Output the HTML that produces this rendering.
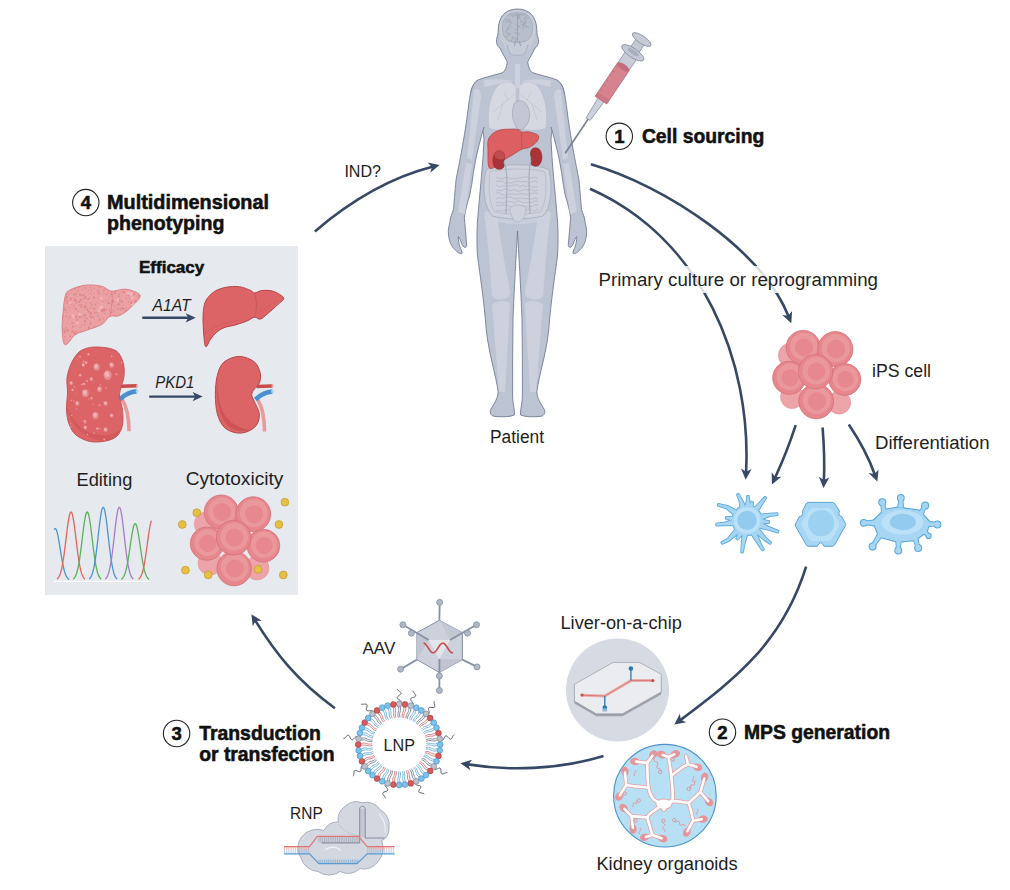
<!DOCTYPE html>
<html><head><meta charset="utf-8"><title>Figure</title>
<style>
html,body{margin:0;padding:0;background:#fff;width:1010px;height:890px;overflow:hidden}
svg{display:block}
text{font-family:"Liberation Sans",sans-serif}
</style></head><body>
<svg width="1010" height="890" viewBox="0 0 1010 890">
<rect x="45" y="246" width="253" height="349" fill="#e6e9ee"/>
<path d="M517.5,9 C506,9 498.5,16 498.2,30 C498.2,34 497.5,36 496.8,38 C496,42 497,47 500,48 C502,53 506,59 507.3,62 C506.5,67 505.5,70 503,72.5 C496,75 485,77 478,80 C472,84 470,92 471,100 C474,110 484,125 484,140 C483,165 480,190 478,215 C477,225 476.5,240 477.5,256 C480,275 484,300 486.3,330 C489,355 496,375 498.2,392 C498,398 494,404 491,409 C489,413 491,416.5 496,416.5 C503,417 510,417 514.4,415 C515,410 512.6,404 512.6,395 C512.6,370 512.6,345 513,320 C514,290 516.5,250 517.5,231 C518.5,250 521.0,290 522.0,320 C522.4,345 522.4,370 522.4,395 C522.4,404 520.0,410 520.6,415 C525.0,417 532.0,417 539.0,416.5 C544.0,416.5 546.0,413 544.0,409 C541.0,404 537.0,398 536.8,392 C539.0,375 546.0,355 548.7,330 C551.0,300 555.0,275 557.5,256 C558.5,240 558.0,225 557.0,215 C555.0,190 552.0,165 551.0,140 C551.0,125 561.0,110 564.0,100 C565.0,92 563.0,84 557.0,80 C550.0,77 539.0,75 532.0,72.5 C529.5,70 528.5,67 527.7,62 C529.0,59 533.0,53 535.0,48 C538.0,47 539.0,42 538.2,38 C537.5,36 536.8,34 536.8,30 C536.5,16 529.0,9 517.5,9 Z" fill="#bcc3d2" stroke="#737c92" stroke-width="0.9"/>
<g fill="#ccd1dd">
<path d="M484.0,213 C488.0,209 495.0,210 497.0,214 C500.0,240 506.0,270 510.0,292 C511.0,300 495.0,302 492.0,296 C490.0,270 488.0,240 484.0,213 Z"/>
<path d="M492.0,304 C498.0,300 508.0,300 510.0,304 L505.0,392 L499.0,392 Z"/>
<path d="M479.0,82 C490.0,78 503.0,79 512.0,81 L512.0,84 C500.0,83 488.0,85 481.0,89 Z"/>
<path d="M551.0,213 C547.0,209 540.0,210 538.0,214 C535.0,240 529.0,270 525.0,292 C524.0,300 540.0,302 543.0,296 C545.0,270 547.0,240 551.0,213 Z"/>
<path d="M543.0,304 C537.0,300 527.0,300 525.0,304 L530.0,392 L536.0,392 Z"/>
<path d="M556.0,82 C545.0,78 532.0,79 523.0,81 L523.0,84 C535.0,83 547.0,85 554.0,89 Z"/>
</g>
<path d="M492,200 C504,196 531,196 543,200 L546,218 C536,226 499,226 489,218 Z" fill="#ccd1dd" opacity="0.75"/>
<path d="M489,128 C487,110 490,92 500,84 C508,80 514,82 516,88 L516,128 C508,131 496,131 489,128 Z" fill="#d5d8e1" stroke="#b8bdca" stroke-width="0.5"/>
<path d="M546,128 C548,110 545,92 535,84 C527,80 521,82 519,88 L519,128 C527,131 539,131 546,128 Z" fill="#d5d8e1" stroke="#b8bdca" stroke-width="0.5"/>
<path d="M514.0,95 C508.0,100 500.0,106 493.0,112 M508.0,100 L504.0,92 M503.0,104 L498.0,120" fill="none" stroke="#b4bac7" stroke-width="0.5"/>
<path d="M521.0,95 C527.0,100 535.0,106 542.0,112 M527.0,100 L531.0,92 M532.0,104 L537.0,120" fill="none" stroke="#b4bac7" stroke-width="0.5"/>
<rect x="515" y="64" width="5" height="24" fill="#ccd1dd"/>
<path d="M514,104 C518,98 526,100 529,110 C531,120 527,128 520,130 C514,126 510,116 514,104 Z" fill="#c2c7d3" stroke="#98a0b1" stroke-width="0.6"/>
<path d="M486,170 C496,163 539,163 549,170 C553,188 551,208 543,216 C527,220 508,220 492,216 C484,206 482,188 486,170 Z" fill="#cdd2dc" stroke="#a5acbb" stroke-width="0.8"/>
<path d="M490,172 C500,168 535,168 545,172 C547,185 546,205 540,212 C527,215 508,215 495,212 C489,205 488,185 490,172 Z" fill="none" stroke="#b0b6c4" stroke-width="0.7"/>
<polyline points="496.0,177.1 499.0,178.5 502.0,178.4 505.0,177.9 508.0,177.3 511.0,178.8 514.0,178.8 517.0,178.0 520.0,178.0 523.0,177.3 526.0,176.7 529.0,177.7 532.0,178.2 535.0,176.9 538.0,178.8" fill="none" stroke="#a9b0be" stroke-width="0.6"/>
<polyline points="496.0,181.3 499.0,181.3 502.0,180.8 505.0,183.3 508.0,182.6 511.0,183.0 514.0,182.3 517.0,180.8 520.0,181.6 523.0,182.0 526.0,181.0 529.0,183.2 532.0,181.7 535.0,181.1 538.0,182.8" fill="none" stroke="#a9b0be" stroke-width="0.6"/>
<polyline points="496.0,185.0 499.0,187.1 502.0,185.9 505.0,186.1 508.0,185.6 511.0,186.0 514.0,185.2 517.0,184.8 520.0,187.0 523.0,185.3 526.0,186.7 529.0,185.2 532.0,187.2 535.0,187.0 538.0,186.7" fill="none" stroke="#a9b0be" stroke-width="0.6"/>
<polyline points="496.0,190.7 499.0,190.2 502.0,190.6 505.0,189.0 508.0,189.9 511.0,190.9 514.0,189.2 517.0,191.1 520.0,191.0 523.0,189.8 526.0,189.6 529.0,189.9 532.0,189.7 535.0,191.3 538.0,189.7" fill="none" stroke="#a9b0be" stroke-width="0.6"/>
<polyline points="496.0,192.8 499.0,192.9 502.0,194.6 505.0,195.3 508.0,194.0 511.0,194.0 514.0,194.1 517.0,194.6 520.0,193.3 523.0,194.3 526.0,194.1 529.0,194.3 532.0,193.2 535.0,193.1 538.0,193.6" fill="none" stroke="#a9b0be" stroke-width="0.6"/>
<polyline points="496.0,199.1 499.0,197.6 502.0,198.3 505.0,197.5 508.0,197.0 511.0,196.9 514.0,198.8 517.0,198.7 520.0,197.7 523.0,198.5 526.0,198.5 529.0,199.0 532.0,199.2 535.0,197.8 538.0,199.3" fill="none" stroke="#a9b0be" stroke-width="0.6"/>
<polyline points="496.0,203.2 499.0,202.2 502.0,203.0 505.0,202.0 508.0,201.7 511.0,201.3 514.0,203.0 517.0,201.1 520.0,200.9 523.0,202.8 526.0,202.7 529.0,202.0 532.0,202.9 535.0,200.8 538.0,201.4" fill="none" stroke="#a9b0be" stroke-width="0.6"/>
<polyline points="496.0,205.5 499.0,205.8 502.0,205.1 505.0,204.9 508.0,205.6 511.0,207.0 514.0,207.3 517.0,206.6 520.0,205.9 523.0,205.4 526.0,207.2 529.0,206.1 532.0,206.6 535.0,204.8 538.0,205.3" fill="none" stroke="#a9b0be" stroke-width="0.6"/>
<polyline points="496.0,210.9 499.0,210.8 502.0,211.0 505.0,210.3 508.0,209.8 511.0,210.2 514.0,210.9 517.0,209.5 520.0,210.1 523.0,209.4 526.0,210.7 529.0,208.7 532.0,210.5 535.0,211.2 538.0,208.8" fill="none" stroke="#a9b0be" stroke-width="0.6"/>
<path d="M510,208 C514,204 522,204 526,208 C526,216 522,222 518,222 C514,222 510,216 510,208 Z" fill="#cdd2dd" stroke="#a2a9b8" stroke-width="0.5"/>
<path d="M478,80 C471,84 470,95 468,110 C465,135 459,165 456,180 C455,192 454,202 453.5,209.6 C452,214 450,218 449.9,222.2 C448.5,228 448,231 448.5,234 C449,241 451,245 453.5,248.3 C456,251 459,254 461.6,253.7 C463,252 460,248 459.3,244.7 C458.5,241 458,238 458.4,236.6 C459.5,238 460.5,240 461.1,242 C462,245 463.5,247.5 465.2,247.4 C467,247 466.8,244 466.5,242.9 C466,236 465,225 464.3,217.7 C466,208 468,200 469.6,196.2 C471,188 472,184 472.3,180 C475,160 480,140 484,127 C486,115 486,95 484,82 Z" fill="#bcc3d2"/>
<path d="M 557.0,80 C 564.0,84 565.0,95 567.0,110 C 570.0,135 576.0,165 579.0,180 C 580.0,192 581.0,202 581.5,209.6 C 583.0,214 585.0,218 585.1,222.2 C 586.5,228 587.0,231 586.5,234 C 586.0,241 584.0,245 581.5,248.3 C 579.0,251 576.0,254 573.4,253.7 C 572.0,252 575.0,248 575.7,244.7 C 576.5,241 577.0,238 576.6,236.6 C 575.5,238 574.5,240 573.9,242 C 573.0,245 571.5,247.5 569.8,247.4 C 568.0,247 568.2,244 568.5,242.9 C 569.0,236 570.0,225 570.7,217.7 C 569.0,208 567.0,200 565.4,196.2 C 564.0,188 563.0,184 562.7,180 C 560.0,160 555.0,140 551.0,127 C 549.0,115 549.0,95 551.0,82 Z" fill="#bcc3d2"/>
<path d="M478,80 C471,84 470,95 468,110 C465,135 459,165 456,180 C455,192 454,202 453.5,209.6 C452,214 450,218 449.9,222.2 C448.5,228 448,231 448.5,234 C449,241 451,245 453.5,248.3 C456,251 459,254 461.6,253.7 C463,252 460,248 459.3,244.7 C458.5,241 458,238 458.4,236.6 C459.5,238 460.5,240 461.1,242 C462,245 463.5,247.5 465.2,247.4 C467,247 466.8,244 466.5,242.9 C466,236 465,225 464.3,217.7 C466,208 468,200 469.6,196.2 C471,188 472,184 472.3,180 C475,160 480,140 484,127" fill="none" stroke="#737c92" stroke-width="0.9"/>
<path d="M 557.0,80 C 564.0,84 565.0,95 567.0,110 C 570.0,135 576.0,165 579.0,180 C 580.0,192 581.0,202 581.5,209.6 C 583.0,214 585.0,218 585.1,222.2 C 586.5,228 587.0,231 586.5,234 C 586.0,241 584.0,245 581.5,248.3 C 579.0,251 576.0,254 573.4,253.7 C 572.0,252 575.0,248 575.7,244.7 C 576.5,241 577.0,238 576.6,236.6 C 575.5,238 574.5,240 573.9,242 C 573.0,245 571.5,247.5 569.8,247.4 C 568.0,247 568.2,244 568.5,242.9 C 569.0,236 570.0,225 570.7,217.7 C 569.0,208 567.0,200 565.4,196.2 C 564.0,188 563.0,184 562.7,180 C 560.0,160 555.0,140 551.0,127" fill="none" stroke="#737c92" stroke-width="0.9"/>
<g fill="#ccd1dd">
<path d="M474.0,90 C478.0,88 481.0,90 481.0,97 L472.0,160 L467.0,158 Z"/>
<path d="M466.0,163 L472.0,164 L465.0,214 L458.0,212 Z"/>
<path d="M561.0,90 C557.0,88 554.0,90 554.0,97 L563.0,160 L568.0,158 Z"/>
<path d="M569.0,163 L563.0,164 L570.0,214 L577.0,212 Z"/>
</g>
<path d="M517.5,10.5 C529,10.5 535.5,17 535.5,28 C535.5,38 532,46 526,52 C522,55 513,55 509,52 C503,46 499.5,38 499.5,28 C499.5,17 506,10.5 517.5,10.5 Z" fill="#c6cbd7"/>
<clipPath id="cbrain"><path d="M517.5,12.5 C527,12.5 532.5,18 532.5,27 C532.5,36 530,42.5 517.5,42.5 C505,42.5 502.5,36 502.5,27 C502.5,18 508,12.5 517.5,12.5 Z"/></clipPath>
<path d="M517.5,12.5 C527,12.5 532.5,18 532.5,27 C532.5,36 530,42.5 517.5,42.5 C505,42.5 502.5,36 502.5,27 C502.5,18 508,12.5 517.5,12.5 Z" fill="#b8beca" stroke="#9ba2b2" stroke-width="0.6"/>
<g clip-path="url(#cbrain)" fill="none" stroke="#9aa1b1" stroke-width="0.55">
<path d="M516.4,23.8 q-0.2,2.1 1.9,2.3 t1.9,2.3"/>
<path d="M528.1,13.2 q-1.5,-1.5 -3.0,-0.0 t-3.0,-0.0"/>
<path d="M529.1,15.3 q-0.9,-1.9 -2.8,-1.0 t-2.8,-1.0"/>
<path d="M520.9,14.2 q-2.1,-0.1 -2.2,2.1 t-2.2,2.1"/>
<path d="M523.4,26.1 q1.2,-1.7 -0.5,-3.0 t-0.5,-3.0"/>
<path d="M507.6,19.9 q0.2,2.1 2.3,1.9 t2.3,1.9"/>
<path d="M517.7,39.8 q-0.5,-2.1 -2.5,-1.6 t-2.5,-1.6"/>
<path d="M525.5,24.1 q1.5,-1.5 -0.1,-3.0 t-0.1,-3.0"/>
<path d="M505.9,21.4 q0.6,-2.0 -1.4,-2.7 t-1.4,-2.7"/>
<path d="M524.0,25.2 q0.5,2.1 2.6,1.6 t2.6,1.6"/>
<path d="M510.7,19.1 q-1.8,1.2 -0.6,2.9 t-0.6,2.9"/>
<path d="M526.5,18.8 q2.1,0.1 2.3,-2.0 t2.3,-2.0"/>
<path d="M528.5,14.6 q-2.1,-0.0 -2.2,2.1 t-2.2,2.1"/>
<path d="M517.3,13.7 q-2.0,-0.6 -2.7,1.4 t-2.7,1.4"/>
<path d="M529.3,16.2 q-0.4,-2.1 -2.5,-1.7 t-2.5,-1.7"/>
<path d="M506.5,29.8 q2.1,0.3 2.4,-1.8 t2.4,-1.8"/>
<path d="M508.9,13.2 q0.5,2.0 2.6,1.5 t2.6,1.5"/>
<path d="M518.7,13.5 q0.5,2.1 2.6,1.5 t2.6,1.5"/>
<path d="M517.4,39.7 q-2.0,-0.6 -2.6,1.4 t-2.6,1.4"/>
<path d="M514.5,31.5 q0.4,2.1 2.5,1.7 t2.5,1.7"/>
<path d="M519.8,18.0 q-0.2,-2.1 -2.3,-1.9 t-2.3,-1.9"/>
<path d="M530.8,14.6 q-0.9,-1.9 -2.8,-1.0 t-2.8,-1.0"/>
<path d="M520.6,17.3 q-1.7,1.3 -0.3,3.0 t-0.3,3.0"/>
<path d="M531.9,41.9 q0.0,2.1 2.2,2.1 t2.2,2.1"/>
<path d="M523.5,40.6 q-1.4,1.6 0.3,3.0 t0.3,3.0"/>
<path d="M520.7,14.2 q-2.1,0.1 -2.0,2.2 t-2.0,2.2"/>
<path d="M522.5,30.1 q1.7,-1.3 0.5,-3.0 t0.5,-3.0"/>
<path d="M505.5,23.1 q2.1,-0.2 2.0,-2.3 t2.0,-2.3"/>
<path d="M519.9,26.1 q-2.1,-0.4 -2.4,1.7 t-2.4,1.7"/>
<path d="M531.6,29.7 q1.3,1.7 3.0,0.3 t3.0,0.3"/>
<path d="M526.2,22.5 q-2.0,-0.8 -2.7,1.2 t-2.7,1.2"/>
<path d="M509.2,25.9 q-2.0,0.7 -1.4,2.7 t-1.4,2.7"/>
<path d="M505.6,31.3 q0.3,2.1 2.4,1.8 t2.4,1.8"/>
<path d="M525.7,13.7 q1.8,-1.2 0.6,-2.9 t0.6,-2.9"/>
<path d="M526.4,27.4 q1.1,-1.8 -0.8,-2.9 t-0.8,-2.9"/>
<path d="M510.2,34.4 q-2.0,-0.7 -2.7,1.4 t-2.7,1.4"/>
<path d="M509.7,41.0 q-2.1,-0.3 -2.4,1.8 t-2.4,1.8"/>
<path d="M513.8,37.9 q-2.1,0.1 -2.0,2.2 t-2.0,2.2"/>
</g>
<path d="M517.5,13 L517.5,42" stroke="#959cad" stroke-width="0.7"/>
<path d="M515.5,41 L514.5,46 M519.5,41 L520.5,46" stroke="#8f97a8" stroke-width="0.8"/>
<path d="M507,45 C508,49 509,52 511,54 M528,45 C527,49 526,52 524,54" fill="none" stroke="#a2a9b8" stroke-width="0.9"/>
<path d="M511,54.5 C515,56 520,56 524,54.5" fill="none" stroke="#adb3c1" stroke-width="0.8"/>
<path d="M488.9,138.3 C490.7,134.9 494.2,131.8 498.8,130.3 C503.4,128.8 512.9,129.1 516.8,129.4 C520.7,129.7 520.1,131.6 522.2,132.0 C524.3,132.4 526.7,131.4 529.4,132.0 C532.1,132.6 537.1,133.9 538.3,135.6 C539.5,137.3 538.0,140.1 536.5,142.0 C535.0,143.9 531.8,146.1 529.4,147.3 C527.0,148.5 524.9,147.9 522.2,149.1 C519.5,150.3 516.2,152.7 513.2,154.5 C510.2,156.3 507.2,157.8 504.2,159.9 C501.2,162.0 497.8,165.9 495.2,167.1 C492.6,168.3 490.1,169.8 488.9,167.1 C487.7,164.4 488.0,155.7 488.0,150.9 C488.0,146.1 487.1,141.7 488.9,138.3 Z" fill="#dc6062" stroke="#b44448" stroke-width="0.8"/>
<path d="M521,132 C522,138 522,144 521.5,149" fill="none" stroke="#b44448" stroke-width="0.6"/>
<path d="M496,152 C501,149 505,152 504.5,158 C504,160 503,161.5 504.2,164 C505,168.5 500,170.5 496,168.5 C492,165 492,156 496,152 Z" fill="#a93337" stroke="#8a2629" stroke-width="0.6"/>
<path d="M496,152 C501,149 505,152 504.5,158 C503,160 500,160 496,158 C494,156 494,154 496,152 Z" fill="#d6686a" opacity="0.5"/>
<path d="M539,149 C534,146 530,149 530.5,155 C531,157 532,158.5 530.6,161 C529.8,165 534.5,167.5 538.5,165.5 C543,162 543,153 539,149 Z" fill="#a93337" stroke="#8a2629" stroke-width="0.6"/>
<path d="M504,162 C508,170 507,190 506,214 M531,160 C528,170 529,190 530,214" fill="none" stroke="#a7aebd" stroke-width="1.2"/>
<text x="490" y="443" font-size="18" font-weight="normal" font-style="normal" fill="#1e1e1e" text-anchor="start" textLength="54" lengthAdjust="spacingAndGlyphs">Patient</text>
<g transform="translate(565.2,153.2) rotate(-56.06)">
<rect x="0" y="-0.8" width="44" height="1.6" fill="#7a8296"/>
<path d="M41,-2.4 L65,-3.6 L65,3.6 L41,2.4 Z" fill="#ccd1db" stroke="#848ca0" stroke-width="0.7"/>
<rect x="104" y="-6.8" width="16" height="13.6" fill="#c7ccd7" stroke="#848ca0" stroke-width="0.7"/>
<path d="M64,-7 L104,-7 L104,7 L64,7 Z" fill="#d6838f" stroke="#b56a78" stroke-width="0.7"/>
<ellipse cx="104" cy="0" rx="3" ry="7" fill="#c36e7d"/>
<rect x="64" y="-7" width="5" height="14" fill="#c9717f" opacity="0.7"/>
<line x1="73.0" y1="-7" x2="73.0" y2="-4" stroke="#b8697a" stroke-width="0.6"/>
<line x1="78.5" y1="-7" x2="78.5" y2="-4" stroke="#b8697a" stroke-width="0.6"/>
<line x1="84.0" y1="-7" x2="84.0" y2="-4" stroke="#b8697a" stroke-width="0.6"/>
<line x1="89.5" y1="-7" x2="89.5" y2="-4" stroke="#b8697a" stroke-width="0.6"/>
<line x1="95.0" y1="-7" x2="95.0" y2="-4" stroke="#b8697a" stroke-width="0.6"/>
<line x1="100.5" y1="-7" x2="100.5" y2="-4" stroke="#b8697a" stroke-width="0.6"/>
<rect x="118" y="-5" width="19" height="10" fill="#c3c8d3" stroke="#848ca0" stroke-width="0.7"/>
<ellipse cx="121" cy="0" rx="4.6" ry="13" fill="#c5cad5" stroke="#848ca0" stroke-width="0.8"/>
<ellipse cx="121.8" cy="0" rx="2.4" ry="6.5" fill="#a9afbd"/>
<ellipse cx="137" cy="0" rx="3.8" ry="11" fill="#c5cad5" stroke="#848ca0" stroke-width="0.8"/>
</g>
<path d="M314.9,231.4 C351.4,200.1 392.8,176.9 432.34,166.76" fill="none" stroke="#374865" stroke-width="2.6"/>
<path d="M439.6,164.9 L430.3,172.8 L431.9,166.9 L427.6,162.5Z" fill="#374865"/>
<path d="M590.9,164.2 C665.9,185.7 762.3,250.6 788.52,316.24" fill="none" stroke="#374865" stroke-width="2.6"/>
<path d="M791.3,323.2 L782.3,315.0 L788.3,315.8 L792.1,311.0Z" fill="#374865"/>
<path d="M590,188.7 C702.9,238.9 751.7,362.0 746.08,472.21" fill="none" stroke="#374865" stroke-width="2.6"/>
<path d="M745.7,479.7 L741.0,468.4 L746.1,471.7 L751.6,469.0Z" fill="#374865"/>
<path d="M795.7,425.1 Q787,452 775.06,477.7" fill="none" stroke="#374865" stroke-width="2.6"/>
<path d="M771.9,484.5 L771.7,472.3 L775.3,477.2 L781.3,476.8Z" fill="#374865"/>
<path d="M822.6,427.5 Q825,458 823.87,480.61" fill="none" stroke="#374865" stroke-width="2.6"/>
<path d="M823.5,488.1 L818.8,476.8 L823.9,480.1 L829.3,477.4Z" fill="#374865"/>
<path d="M848.8,424.5 Q866,450 874.77,474.44" fill="none" stroke="#374865" stroke-width="2.6"/>
<path d="M877.3,481.5 L868.6,472.9 L874.6,474.0 L878.6,469.4Z" fill="#374865"/>
<path d="M806.1,566.7 C782.4,642.8 735.3,678.9 680.3,720.1" fill="none" stroke="#374865" stroke-width="2.6"/>
<path d="M674.3,724.6 L679.9,713.8 L680.7,719.8 L686.3,722.2Z" fill="#374865"/>
<path d="M603.5,756 C557.3,770.0 507.8,770.9 467.8,764.4" fill="none" stroke="#374865" stroke-width="2.6"/>
<path d="M460.4,763.2 L472.1,759.7 L468.3,764.5 L470.4,770.2Z" fill="#374865"/>
<path d="M334.9,708.2 C296.9,680.4 275.7,653.5 255.34,620.58" fill="none" stroke="#374865" stroke-width="2.6"/>
<path d="M251.4,614.2 L261.7,620.8 L255.6,621.0 L252.7,626.3Z" fill="#374865"/>
<rect x="595" y="266" width="288" height="27" fill="#fff" opacity="0.82"/>
<text x="598.5" y="286.3" font-size="18" font-weight="normal" font-style="normal" fill="#1e1e1e" text-anchor="start" textLength="279.5" lengthAdjust="spacingAndGlyphs">Primary culture or reprogramming</text>
<text x="344.4" y="177" font-size="17" font-weight="normal" font-style="normal" fill="#1e1e1e" text-anchor="start" textLength="36.6" lengthAdjust="spacingAndGlyphs">IND?</text>
<circle cx="85.8" cy="202.6" r="13.2" fill="#fff" stroke="#222" stroke-width="1.1"/>
<text x="85.8" y="209.2" font-size="18.5" font-weight="bold" font-style="normal" fill="#111" text-anchor="middle" stroke="#111" stroke-width="0.55">4</text>
<text x="107" y="209" font-size="19.5" font-weight="bold" font-style="normal" fill="#111" text-anchor="start" textLength="162" lengthAdjust="spacingAndGlyphs" stroke="#111" stroke-width="0.55">Multidimensional</text>
<text x="107" y="230.4" font-size="19.5" font-weight="bold" font-style="normal" fill="#111" text-anchor="start" textLength="117.4" lengthAdjust="spacingAndGlyphs" stroke="#111" stroke-width="0.55">phenotyping</text>
<circle cx="619.3" cy="136.3" r="13.2" fill="#fff" stroke="#222" stroke-width="1.1"/>
<text x="619.3" y="142.9" font-size="18.5" font-weight="bold" font-style="normal" fill="#111" text-anchor="middle" stroke="#111" stroke-width="0.55">1</text>
<text x="641.9" y="143.3" font-size="19.5" font-weight="bold" font-style="normal" fill="#111" text-anchor="start" textLength="122.4" lengthAdjust="spacingAndGlyphs" stroke="#111" stroke-width="0.55">Cell sourcing</text>
<circle cx="722.5" cy="732.2" r="13.2" fill="#fff" stroke="#222" stroke-width="1.1"/>
<text x="722.5" y="738.8000000000001" font-size="18.5" font-weight="bold" font-style="normal" fill="#111" text-anchor="middle" stroke="#111" stroke-width="0.55">2</text>
<text x="744" y="738.7" font-size="19.5" font-weight="bold" font-style="normal" fill="#111" text-anchor="start" textLength="146" lengthAdjust="spacingAndGlyphs" stroke="#111" stroke-width="0.55">MPS generation</text>
<circle cx="176.6" cy="733.5" r="13.2" fill="#fff" stroke="#222" stroke-width="1.1"/>
<text x="176.6" y="740.1" font-size="18.5" font-weight="bold" font-style="normal" fill="#111" text-anchor="middle" stroke="#111" stroke-width="0.55">3</text>
<text x="199.2" y="739.7" font-size="19.5" font-weight="bold" font-style="normal" fill="#111" text-anchor="start" textLength="121.7" lengthAdjust="spacingAndGlyphs" stroke="#111" stroke-width="0.55">Transduction</text>
<text x="199.2" y="761.2" font-size="19.5" font-weight="bold" font-style="normal" fill="#111" text-anchor="start" textLength="135.4" lengthAdjust="spacingAndGlyphs" stroke="#111" stroke-width="0.55">or transfection</text>
<text x="872" y="377" font-size="18" font-weight="normal" font-style="normal" fill="#1e1e1e" text-anchor="start" textLength="59" lengthAdjust="spacingAndGlyphs">iPS cell</text>
<text x="875" y="449.4" font-size="18" font-weight="normal" font-style="normal" fill="#1e1e1e" text-anchor="start" textLength="114.5" lengthAdjust="spacingAndGlyphs">Differentiation</text>
<text x="560.5" y="629" font-size="18" font-weight="normal" font-style="normal" fill="#1e1e1e" text-anchor="start" textLength="121.3" lengthAdjust="spacingAndGlyphs">Liver-on-a-chip</text>
<text x="596.4" y="869.9" font-size="18" font-weight="normal" font-style="normal" fill="#1e1e1e" text-anchor="start" textLength="141.3" lengthAdjust="spacingAndGlyphs">Kidney organoids</text>
<text x="362.4" y="653.7" font-size="17" font-weight="normal" font-style="normal" fill="#1e1e1e" text-anchor="start" textLength="33" lengthAdjust="spacingAndGlyphs">AAV</text>
<text x="383.6" y="751" font-size="17" font-weight="normal" font-style="normal" fill="#1e1e1e" text-anchor="start" textLength="31.4" lengthAdjust="spacingAndGlyphs">LNP</text>
<text x="290.1" y="818.8" font-size="17" font-weight="normal" font-style="normal" fill="#1e1e1e" text-anchor="start" textLength="32.6" lengthAdjust="spacingAndGlyphs">RNP</text>
<text x="139" y="273.4" font-size="17" font-weight="bold" font-style="normal" fill="#111" text-anchor="start" textLength="65.2" lengthAdjust="spacingAndGlyphs" stroke="#111" stroke-width="0.55">Efficacy</text>
<text x="152.4" y="310.5" font-size="17" font-weight="normal" font-style="italic" fill="#1e1e1e" text-anchor="start" textLength="38.2" lengthAdjust="spacingAndGlyphs">A1AT</text>
<text x="155.3" y="387.9" font-size="17" font-weight="normal" font-style="italic" fill="#1e1e1e" text-anchor="start" textLength="39.1" lengthAdjust="spacingAndGlyphs">PKD1</text>
<text x="76.5" y="486" font-size="18" font-weight="normal" font-style="normal" fill="#1e1e1e" text-anchor="start" textLength="55.8" lengthAdjust="spacingAndGlyphs">Editing</text>
<text x="185.7" y="484.9" font-size="18" font-weight="normal" font-style="normal" fill="#1e1e1e" text-anchor="start" textLength="97.6" lengthAdjust="spacingAndGlyphs">Cytotoxicity</text>
<line x1="142.3" y1="317.8" x2="188.7" y2="317.8" stroke="#374865" stroke-width="2.4"/>
<path d="M195.7,317.8 L185.7,322.4 L188.2,317.8 L185.7,313.2Z" fill="#374865"/>
<line x1="149.2" y1="396.6" x2="195.6" y2="396.6" stroke="#374865" stroke-width="2.4"/>
<path d="M202.6,396.6 L192.6,401.2 L195.1,396.6 L192.6,392.0Z" fill="#374865"/>
<clipPath id="cdl"><path d="M69.3,290.2 C72.6,288.4 80.0,285.8 85.4,285.2 C90.8,284.5 97.2,285.2 101.6,286.2 C106.0,287.2 107.7,290.7 111.7,291.2 C115.8,291.7 121.2,288.5 125.9,289.2 C130.6,289.9 139.0,292.4 140.0,295.3 C141.0,298.1 135.3,303.0 131.9,306.4 C128.6,309.8 123.5,313.8 119.8,315.5 C116.1,317.2 112.7,315.0 109.7,316.5 C106.7,318.0 105.7,322.2 101.6,324.6 C97.6,326.9 89.8,329.0 85.4,330.7 C81.1,332.3 78.7,332.3 75.3,334.7 C72.0,337.1 67.4,345.5 65.2,344.8 C63.0,344.1 62.5,336.4 62.2,330.7 C61.8,324.9 62.7,316.2 63.2,310.4 C63.7,304.7 64.2,299.7 65.2,296.3 C66.2,292.9 65.9,292.1 69.3,290.2 Z"/></clipPath>
<path d="M69.3,290.2 C72.6,288.4 80.0,285.8 85.4,285.2 C90.8,284.5 97.2,285.2 101.6,286.2 C106.0,287.2 107.7,290.7 111.7,291.2 C115.8,291.7 121.2,288.5 125.9,289.2 C130.6,289.9 139.0,292.4 140.0,295.3 C141.0,298.1 135.3,303.0 131.9,306.4 C128.6,309.8 123.5,313.8 119.8,315.5 C116.1,317.2 112.7,315.0 109.7,316.5 C106.7,318.0 105.7,322.2 101.6,324.6 C97.6,326.9 89.8,329.0 85.4,330.7 C81.1,332.3 78.7,332.3 75.3,334.7 C72.0,337.1 67.4,345.5 65.2,344.8 C63.0,344.1 62.5,336.4 62.2,330.7 C61.8,324.9 62.7,316.2 63.2,310.4 C63.7,304.7 64.2,299.7 65.2,296.3 C66.2,292.9 65.9,292.1 69.3,290.2 Z" fill="#eba1a3" stroke="#d87d81" stroke-width="0.9"/>
<g clip-path="url(#cdl)">
<circle cx="79.5" cy="317.3" r="0.7" fill="#d97f84" opacity="0.8"/>
<circle cx="109.5" cy="322.4" r="0.5" fill="#d97f84" opacity="0.8"/>
<circle cx="61.1" cy="335.8" r="0.7" fill="#d97f84" opacity="0.8"/>
<circle cx="79.2" cy="345.7" r="0.8" fill="#d97f84" opacity="0.8"/>
<circle cx="128.6" cy="313.0" r="0.9" fill="#d97f84" opacity="0.8"/>
<circle cx="72.4" cy="323.0" r="1.0" fill="#d97f84" opacity="0.8"/>
<circle cx="102.9" cy="329.7" r="0.9" fill="#d97f84" opacity="0.8"/>
<circle cx="65.3" cy="330.8" r="0.9" fill="#d97f84" opacity="0.8"/>
<circle cx="84.7" cy="285.0" r="1.0" fill="#d97f84" opacity="0.8"/>
<circle cx="98.8" cy="328.3" r="1.0" fill="#d97f84" opacity="0.8"/>
<circle cx="118.6" cy="341.0" r="0.7" fill="#d97f84" opacity="0.8"/>
<circle cx="125.7" cy="311.0" r="1.1" fill="#d97f84" opacity="0.8"/>
<circle cx="132.1" cy="289.1" r="0.6" fill="#d97f84" opacity="0.8"/>
<circle cx="77.8" cy="343.8" r="0.8" fill="#d97f84" opacity="0.8"/>
<circle cx="111.4" cy="302.0" r="0.8" fill="#d97f84" opacity="0.8"/>
<circle cx="91.6" cy="305.1" r="0.9" fill="#d97f84" opacity="0.8"/>
<circle cx="107.9" cy="340.0" r="0.9" fill="#d97f84" opacity="0.8"/>
<circle cx="136.2" cy="337.0" r="1.1" fill="#d97f84" opacity="0.8"/>
<circle cx="115.0" cy="293.3" r="1.0" fill="#d97f84" opacity="0.8"/>
<circle cx="139.1" cy="340.0" r="0.8" fill="#d97f84" opacity="0.8"/>
<circle cx="118.5" cy="296.3" r="1.0" fill="#d97f84" opacity="0.8"/>
<circle cx="107.0" cy="301.0" r="0.5" fill="#d97f84" opacity="0.8"/>
<circle cx="130.0" cy="345.4" r="0.6" fill="#d97f84" opacity="0.8"/>
<circle cx="125.6" cy="308.9" r="0.6" fill="#d97f84" opacity="0.8"/>
<circle cx="84.1" cy="331.4" r="1.0" fill="#d97f84" opacity="0.8"/>
<circle cx="63.6" cy="321.7" r="0.5" fill="#d97f84" opacity="0.8"/>
<circle cx="118.9" cy="303.9" r="1.0" fill="#d97f84" opacity="0.8"/>
<circle cx="140.4" cy="314.8" r="1.1" fill="#d97f84" opacity="0.8"/>
<circle cx="85.4" cy="287.8" r="0.9" fill="#d97f84" opacity="0.8"/>
<circle cx="62.6" cy="295.4" r="0.7" fill="#d97f84" opacity="0.8"/>
<circle cx="110.1" cy="292.8" r="0.5" fill="#d97f84" opacity="0.8"/>
<circle cx="131.2" cy="302.8" r="1.1" fill="#d97f84" opacity="0.8"/>
<circle cx="133.5" cy="306.8" r="0.8" fill="#d97f84" opacity="0.8"/>
<circle cx="102.6" cy="323.6" r="0.9" fill="#d97f84" opacity="0.8"/>
<circle cx="105.9" cy="322.1" r="1.1" fill="#d97f84" opacity="0.8"/>
<circle cx="101.6" cy="310.2" r="0.9" fill="#d97f84" opacity="0.8"/>
<circle cx="79.5" cy="302.0" r="1.1" fill="#d97f84" opacity="0.8"/>
<circle cx="102.7" cy="317.6" r="0.5" fill="#d97f84" opacity="0.8"/>
<circle cx="94.0" cy="319.5" r="0.5" fill="#d97f84" opacity="0.8"/>
<circle cx="110.5" cy="322.8" r="0.5" fill="#d97f84" opacity="0.8"/>
<circle cx="111.4" cy="312.4" r="0.9" fill="#d97f84" opacity="0.8"/>
<circle cx="88.9" cy="327.5" r="0.9" fill="#d97f84" opacity="0.8"/>
<circle cx="61.8" cy="286.8" r="0.9" fill="#d97f84" opacity="0.8"/>
<circle cx="139.0" cy="298.8" r="0.8" fill="#d97f84" opacity="0.8"/>
<circle cx="108.6" cy="303.2" r="0.7" fill="#d97f84" opacity="0.8"/>
<circle cx="85.6" cy="306.3" r="0.9" fill="#d97f84" opacity="0.8"/>
<circle cx="84.6" cy="306.8" r="1.0" fill="#d97f84" opacity="0.8"/>
<circle cx="62.2" cy="318.9" r="0.9" fill="#d97f84" opacity="0.8"/>
<circle cx="85.4" cy="297.0" r="1.0" fill="#d97f84" opacity="0.8"/>
<circle cx="79.6" cy="294.8" r="0.8" fill="#d97f84" opacity="0.8"/>
<circle cx="117.2" cy="289.4" r="0.7" fill="#d97f84" opacity="0.8"/>
<circle cx="87.4" cy="335.5" r="0.8" fill="#d97f84" opacity="0.8"/>
<circle cx="130.2" cy="293.7" r="0.7" fill="#d97f84" opacity="0.8"/>
<circle cx="113.3" cy="338.7" r="0.8" fill="#d97f84" opacity="0.8"/>
<circle cx="78.5" cy="290.6" r="0.8" fill="#d97f84" opacity="0.8"/>
<circle cx="75.6" cy="333.8" r="1.0" fill="#d97f84" opacity="0.8"/>
<circle cx="75.1" cy="300.6" r="1.0" fill="#d97f84" opacity="0.8"/>
<circle cx="112.6" cy="333.8" r="0.7" fill="#d97f84" opacity="0.8"/>
<circle cx="70.6" cy="301.4" r="1.0" fill="#d97f84" opacity="0.8"/>
<circle cx="82.2" cy="304.8" r="0.8" fill="#d97f84" opacity="0.8"/>
<circle cx="94.4" cy="308.8" r="1.1" fill="#d97f84" opacity="0.8"/>
<circle cx="72.8" cy="283.3" r="1.1" fill="#d97f84" opacity="0.8"/>
<circle cx="132.2" cy="345.2" r="0.8" fill="#d97f84" opacity="0.8"/>
<circle cx="137.9" cy="341.4" r="0.6" fill="#d97f84" opacity="0.8"/>
<circle cx="121.1" cy="335.7" r="0.9" fill="#d97f84" opacity="0.8"/>
<circle cx="102.6" cy="301.2" r="0.7" fill="#d97f84" opacity="0.8"/>
<circle cx="78.7" cy="287.3" r="0.9" fill="#d97f84" opacity="0.8"/>
<circle cx="83.5" cy="334.0" r="0.5" fill="#d97f84" opacity="0.8"/>
<circle cx="134.1" cy="326.7" r="1.1" fill="#d97f84" opacity="0.8"/>
<circle cx="133.5" cy="339.7" r="0.8" fill="#d97f84" opacity="0.8"/>
<circle cx="61.1" cy="330.0" r="0.6" fill="#d97f84" opacity="0.8"/>
<circle cx="84.6" cy="324.8" r="0.8" fill="#d97f84" opacity="0.8"/>
<circle cx="93.9" cy="342.2" r="0.9" fill="#d97f84" opacity="0.8"/>
<circle cx="88.0" cy="298.9" r="1.0" fill="#d97f84" opacity="0.8"/>
<circle cx="99.1" cy="332.3" r="0.7" fill="#d97f84" opacity="0.8"/>
<circle cx="76.2" cy="316.7" r="1.0" fill="#d97f84" opacity="0.8"/>
<circle cx="74.0" cy="332.9" r="1.1" fill="#d97f84" opacity="0.8"/>
<circle cx="126.1" cy="334.9" r="0.5" fill="#d97f84" opacity="0.8"/>
<circle cx="111.5" cy="337.3" r="0.5" fill="#d97f84" opacity="0.8"/>
<circle cx="82.3" cy="299.9" r="0.8" fill="#d97f84" opacity="0.8"/>
<circle cx="94.7" cy="312.8" r="1.0" fill="#d97f84" opacity="0.8"/>
<circle cx="60.1" cy="286.5" r="0.6" fill="#d97f84" opacity="0.8"/>
<circle cx="70.2" cy="287.3" r="1.1" fill="#d97f84" opacity="0.8"/>
<circle cx="130.1" cy="288.4" r="0.8" fill="#d97f84" opacity="0.8"/>
<circle cx="85.9" cy="302.8" r="0.7" fill="#d97f84" opacity="0.8"/>
<circle cx="113.0" cy="320.0" r="0.7" fill="#d97f84" opacity="0.8"/>
<circle cx="75.7" cy="303.7" r="0.6" fill="#d97f84" opacity="0.8"/>
<circle cx="105.6" cy="328.1" r="0.7" fill="#d97f84" opacity="0.8"/>
<circle cx="66.6" cy="294.2" r="0.7" fill="#d97f84" opacity="0.8"/>
<circle cx="109.6" cy="332.3" r="0.7" fill="#d97f84" opacity="0.8"/>
<circle cx="125.7" cy="322.2" r="0.8" fill="#d97f84" opacity="0.8"/>
<circle cx="90.5" cy="314.3" r="0.9" fill="#d97f84" opacity="0.8"/>
<circle cx="94.5" cy="326.7" r="0.8" fill="#d97f84" opacity="0.8"/>
<circle cx="80.1" cy="316.8" r="0.9" fill="#d97f84" opacity="0.8"/>
<circle cx="65.9" cy="309.8" r="0.8" fill="#d97f84" opacity="0.8"/>
<circle cx="132.1" cy="342.0" r="0.7" fill="#d97f84" opacity="0.8"/>
<circle cx="133.6" cy="332.8" r="0.7" fill="#d97f84" opacity="0.8"/>
<circle cx="98.1" cy="290.8" r="1.0" fill="#d97f84" opacity="0.8"/>
<circle cx="114.3" cy="338.9" r="1.0" fill="#d97f84" opacity="0.8"/>
<circle cx="114.7" cy="329.2" r="0.8" fill="#d97f84" opacity="0.8"/>
<circle cx="68.5" cy="320.0" r="0.5" fill="#d97f84" opacity="0.8"/>
<circle cx="71.8" cy="331.8" r="0.5" fill="#d97f84" opacity="0.8"/>
<circle cx="67.5" cy="289.3" r="1.0" fill="#d97f84" opacity="0.8"/>
<circle cx="74.7" cy="284.5" r="1.0" fill="#d97f84" opacity="0.8"/>
<circle cx="69.9" cy="336.2" r="0.9" fill="#d97f84" opacity="0.8"/>
<circle cx="128.6" cy="343.0" r="0.8" fill="#d97f84" opacity="0.8"/>
<circle cx="125.5" cy="285.3" r="1.0" fill="#d97f84" opacity="0.8"/>
<circle cx="101.9" cy="328.1" r="0.6" fill="#d97f84" opacity="0.8"/>
<circle cx="121.4" cy="341.9" r="0.5" fill="#d97f84" opacity="0.8"/>
<circle cx="86.6" cy="318.5" r="1.0" fill="#d97f84" opacity="0.8"/>
<circle cx="79.9" cy="294.3" r="0.6" fill="#d97f84" opacity="0.8"/>
<circle cx="110.5" cy="330.5" r="0.7" fill="#d97f84" opacity="0.8"/>
<circle cx="90.1" cy="308.0" r="0.7" fill="#d97f84" opacity="0.8"/>
<circle cx="94.3" cy="288.2" r="0.8" fill="#d97f84" opacity="0.8"/>
<circle cx="139.8" cy="309.0" r="0.9" fill="#d97f84" opacity="0.8"/>
<circle cx="73.2" cy="326.5" r="1.0" fill="#d97f84" opacity="0.8"/>
<circle cx="115.3" cy="315.6" r="0.8" fill="#d97f84" opacity="0.8"/>
<circle cx="112.7" cy="339.5" r="0.6" fill="#d97f84" opacity="0.8"/>
<circle cx="67.9" cy="330.1" r="1.0" fill="#d97f84" opacity="0.8"/>
<circle cx="102.4" cy="310.9" r="0.9" fill="#d97f84" opacity="0.8"/>
<circle cx="75.3" cy="299.8" r="0.6" fill="#d97f84" opacity="0.8"/>
<circle cx="108.0" cy="302.8" r="0.6" fill="#d97f84" opacity="0.8"/>
<circle cx="116.7" cy="343.1" r="0.7" fill="#d97f84" opacity="0.8"/>
<circle cx="117.8" cy="309.0" r="1.0" fill="#d97f84" opacity="0.8"/>
<circle cx="107.9" cy="299.8" r="0.6" fill="#d97f84" opacity="0.8"/>
<circle cx="61.9" cy="313.2" r="0.7" fill="#d97f84" opacity="0.8"/>
<circle cx="74.1" cy="305.7" r="0.7" fill="#d97f84" opacity="0.8"/>
<circle cx="123.5" cy="292.0" r="1.1" fill="#d97f84" opacity="0.8"/>
<circle cx="99.3" cy="320.7" r="0.8" fill="#d97f84" opacity="0.8"/>
<circle cx="128.4" cy="334.8" r="0.8" fill="#d97f84" opacity="0.8"/>
<circle cx="99.5" cy="328.4" r="1.0" fill="#d97f84" opacity="0.8"/>
<circle cx="92.8" cy="329.2" r="1.1" fill="#d97f84" opacity="0.8"/>
<circle cx="98.3" cy="297.5" r="0.6" fill="#d97f84" opacity="0.8"/>
<circle cx="118.9" cy="325.5" r="1.1" fill="#d97f84" opacity="0.8"/>
<circle cx="130.0" cy="298.3" r="0.6" fill="#d97f84" opacity="0.8"/>
<circle cx="81.2" cy="294.8" r="0.9" fill="#d97f84" opacity="0.8"/>
<circle cx="130.4" cy="339.7" r="0.7" fill="#d97f84" opacity="0.8"/>
<circle cx="130.9" cy="302.7" r="0.8" fill="#d97f84" opacity="0.8"/>
<circle cx="119.8" cy="288.4" r="0.6" fill="#d97f84" opacity="0.8"/>
<circle cx="128.4" cy="301.4" r="0.7" fill="#d97f84" opacity="0.8"/>
<circle cx="107.6" cy="325.6" r="0.5" fill="#d97f84" opacity="0.8"/>
<circle cx="87.5" cy="310.5" r="0.8" fill="#d97f84" opacity="0.8"/>
<circle cx="77.2" cy="319.9" r="1.1" fill="#d97f84" opacity="0.8"/>
<circle cx="92.1" cy="317.3" r="0.6" fill="#d97f84" opacity="0.8"/>
<circle cx="82.5" cy="324.9" r="0.6" fill="#d97f84" opacity="0.8"/>
<circle cx="132.7" cy="340.3" r="0.6" fill="#d97f84" opacity="0.8"/>
<circle cx="137.2" cy="306.6" r="1.0" fill="#d97f84" opacity="0.8"/>
<circle cx="122.1" cy="301.6" r="0.9" fill="#d97f84" opacity="0.8"/>
<circle cx="113.6" cy="333.8" r="0.7" fill="#d97f84" opacity="0.8"/>
<circle cx="121.8" cy="343.6" r="0.9" fill="#d97f84" opacity="0.8"/>
<circle cx="104.0" cy="290.1" r="0.8" fill="#d97f84" opacity="0.8"/>
<circle cx="88.9" cy="328.2" r="0.9" fill="#d97f84" opacity="0.8"/>
<circle cx="106.4" cy="294.5" r="0.9" fill="#d97f84" opacity="0.8"/>
<circle cx="111.7" cy="294.3" r="1.0" fill="#d97f84" opacity="0.8"/>
<circle cx="113.7" cy="290.8" r="1.1" fill="#d97f84" opacity="0.8"/>
<circle cx="71.6" cy="303.9" r="0.9" fill="#d97f84" opacity="0.8"/>
<circle cx="109.0" cy="318.0" r="0.9" fill="#d97f84" opacity="0.8"/>
<circle cx="97.5" cy="302.7" r="0.6" fill="#d97f84" opacity="0.8"/>
<circle cx="65.6" cy="328.1" r="1.0" fill="#d97f84" opacity="0.8"/>
<circle cx="104.5" cy="329.6" r="0.7" fill="#d97f84" opacity="0.8"/>
<circle cx="81.8" cy="307.2" r="1.0" fill="#d97f84" opacity="0.8"/>
<circle cx="63.5" cy="314.8" r="0.6" fill="#d97f84" opacity="0.8"/>
<circle cx="123.0" cy="305.3" r="0.7" fill="#d97f84" opacity="0.8"/>
<circle cx="93.1" cy="317.1" r="1.0" fill="#d97f84" opacity="0.8"/>
<circle cx="88.9" cy="336.4" r="0.6" fill="#d97f84" opacity="0.8"/>
<circle cx="82.2" cy="289.3" r="0.6" fill="#d97f84" opacity="0.8"/>
<circle cx="123.9" cy="328.8" r="0.6" fill="#d97f84" opacity="0.8"/>
<circle cx="75.5" cy="309.2" r="0.9" fill="#d97f84" opacity="0.8"/>
<circle cx="126.9" cy="330.2" r="0.9" fill="#d97f84" opacity="0.8"/>
<circle cx="72.0" cy="308.1" r="0.6" fill="#d97f84" opacity="0.8"/>
<circle cx="103.3" cy="318.8" r="0.6" fill="#d97f84" opacity="0.8"/>
<circle cx="80.5" cy="332.2" r="0.5" fill="#d97f84" opacity="0.8"/>
<circle cx="125.9" cy="339.1" r="1.1" fill="#d97f84" opacity="0.8"/>
<circle cx="91.4" cy="317.8" r="0.8" fill="#d97f84" opacity="0.8"/>
<circle cx="112.0" cy="344.5" r="0.9" fill="#d97f84" opacity="0.8"/>
<circle cx="84.6" cy="337.2" r="0.8" fill="#d97f84" opacity="0.8"/>
<circle cx="109.3" cy="328.8" r="0.5" fill="#d97f84" opacity="0.8"/>
<circle cx="123.2" cy="324.7" r="0.8" fill="#d97f84" opacity="0.8"/>
<circle cx="102.9" cy="312.0" r="0.6" fill="#d97f84" opacity="0.8"/>
<circle cx="103.4" cy="285.3" r="0.8" fill="#d97f84" opacity="0.8"/>
<circle cx="113.0" cy="311.0" r="0.8" fill="#d97f84" opacity="0.8"/>
<circle cx="138.6" cy="339.2" r="0.6" fill="#d97f84" opacity="0.8"/>
<circle cx="125.0" cy="322.3" r="0.5" fill="#d97f84" opacity="0.8"/>
<circle cx="89.5" cy="297.7" r="0.5" fill="#d97f84" opacity="0.8"/>
<circle cx="104.2" cy="341.6" r="0.7" fill="#d97f84" opacity="0.8"/>
<circle cx="131.4" cy="326.8" r="0.6" fill="#d97f84" opacity="0.8"/>
<circle cx="130.4" cy="320.9" r="1.1" fill="#d97f84" opacity="0.8"/>
<circle cx="118.7" cy="329.6" r="0.7" fill="#d97f84" opacity="0.8"/>
<circle cx="126.1" cy="341.7" r="1.0" fill="#d97f84" opacity="0.8"/>
<circle cx="95.8" cy="330.7" r="0.8" fill="#d97f84" opacity="0.8"/>
<circle cx="68.9" cy="285.7" r="0.5" fill="#d97f84" opacity="0.8"/>
<circle cx="76.4" cy="293.1" r="0.8" fill="#d97f84" opacity="0.8"/>
<circle cx="117.3" cy="316.9" r="0.8" fill="#d97f84" opacity="0.8"/>
<circle cx="113.2" cy="302.2" r="0.8" fill="#d97f84" opacity="0.8"/>
<circle cx="122.1" cy="308.3" r="0.6" fill="#d97f84" opacity="0.8"/>
<circle cx="133.8" cy="328.3" r="0.7" fill="#d97f84" opacity="0.8"/>
<circle cx="90.4" cy="316.3" r="0.9" fill="#d97f84" opacity="0.8"/>
<circle cx="78.4" cy="283.2" r="0.6" fill="#d97f84" opacity="0.8"/>
<circle cx="124.2" cy="292.0" r="0.8" fill="#d97f84" opacity="0.8"/>
<circle cx="76.0" cy="296.2" r="0.6" fill="#d97f84" opacity="0.8"/>
<circle cx="93.1" cy="293.6" r="0.5" fill="#d97f84" opacity="0.8"/>
<circle cx="69.0" cy="293.6" r="0.8" fill="#d97f84" opacity="0.8"/>
<circle cx="64.9" cy="284.4" r="0.8" fill="#d97f84" opacity="0.8"/>
<circle cx="93.4" cy="327.3" r="0.5" fill="#d97f84" opacity="0.8"/>
<circle cx="93.1" cy="308.0" r="0.5" fill="#d97f84" opacity="0.8"/>
<circle cx="139.2" cy="296.8" r="0.6" fill="#d97f84" opacity="0.8"/>
<circle cx="98.9" cy="293.4" r="0.9" fill="#d97f84" opacity="0.8"/>
<circle cx="88.4" cy="290.8" r="0.5" fill="#d97f84" opacity="0.8"/>
<circle cx="119.7" cy="300.3" r="1.0" fill="#d97f84" opacity="0.8"/>
<circle cx="98.2" cy="341.8" r="0.7" fill="#d97f84" opacity="0.8"/>
<circle cx="80.5" cy="299.7" r="1.0" fill="#d97f84" opacity="0.8"/>
<circle cx="111.6" cy="304.7" r="0.6" fill="#d97f84" opacity="0.8"/>
<circle cx="116.0" cy="344.1" r="0.9" fill="#d97f84" opacity="0.8"/>
<circle cx="60.3" cy="284.9" r="0.6" fill="#d97f84" opacity="0.8"/>
<circle cx="74.0" cy="285.3" r="0.5" fill="#d97f84" opacity="0.8"/>
<circle cx="113.7" cy="339.7" r="0.6" fill="#d97f84" opacity="0.8"/>
<circle cx="139.9" cy="313.0" r="1.0" fill="#d97f84" opacity="0.8"/>
<circle cx="135.2" cy="342.2" r="0.5" fill="#d97f84" opacity="0.8"/>
<circle cx="85.0" cy="321.2" r="1.1" fill="#d97f84" opacity="0.8"/>
<circle cx="67.2" cy="301.5" r="1.0" fill="#d97f84" opacity="0.8"/>
<circle cx="69.4" cy="307.6" r="0.7" fill="#d97f84" opacity="0.8"/>
<circle cx="115.8" cy="341.5" r="0.6" fill="#d97f84" opacity="0.8"/>
<circle cx="120.7" cy="329.2" r="1.0" fill="#d97f84" opacity="0.8"/>
<circle cx="105.4" cy="341.2" r="0.7" fill="#d97f84" opacity="0.8"/>
<circle cx="94.0" cy="297.5" r="1.0" fill="#d97f84" opacity="0.8"/>
<circle cx="99.4" cy="300.0" r="0.6" fill="#d97f84" opacity="0.8"/>
<circle cx="119.1" cy="321.2" r="0.9" fill="#d97f84" opacity="0.8"/>
<circle cx="91.7" cy="313.7" r="0.6" fill="#d97f84" opacity="0.8"/>
<circle cx="118.3" cy="284.4" r="0.8" fill="#d97f84" opacity="0.8"/>
<circle cx="122.2" cy="325.7" r="0.6" fill="#d97f84" opacity="0.8"/>
<circle cx="79.4" cy="336.2" r="0.9" fill="#d97f84" opacity="0.8"/>
<circle cx="132.0" cy="338.0" r="0.8" fill="#d97f84" opacity="0.8"/>
<circle cx="133.5" cy="329.2" r="0.7" fill="#d97f84" opacity="0.8"/>
<circle cx="90.3" cy="287.5" r="0.7" fill="#d97f84" opacity="0.8"/>
<circle cx="138.4" cy="289.6" r="0.8" fill="#d97f84" opacity="0.8"/>
<circle cx="69.0" cy="288.1" r="0.9" fill="#d97f84" opacity="0.8"/>
<circle cx="79.7" cy="286.1" r="0.6" fill="#d97f84" opacity="0.8"/>
<circle cx="112.9" cy="319.9" r="0.5" fill="#d97f84" opacity="0.8"/>
<circle cx="78.9" cy="343.9" r="0.6" fill="#d97f84" opacity="0.8"/>
<circle cx="106.1" cy="309.4" r="1.0" fill="#d97f84" opacity="0.8"/>
<circle cx="109.6" cy="332.7" r="0.8" fill="#d97f84" opacity="0.8"/>
<circle cx="75.4" cy="294.2" r="0.5" fill="#d97f84" opacity="0.8"/>
<circle cx="127.7" cy="290.1" r="0.5" fill="#d97f84" opacity="0.8"/>
<circle cx="139.2" cy="295.6" r="1.0" fill="#d97f84" opacity="0.8"/>
<circle cx="67.0" cy="312.3" r="0.6" fill="#d97f84" opacity="0.8"/>
<circle cx="128.0" cy="321.8" r="0.9" fill="#d97f84" opacity="0.8"/>
<circle cx="122.4" cy="337.9" r="0.7" fill="#d97f84" opacity="0.8"/>
<circle cx="109.5" cy="311.1" r="0.6" fill="#d97f84" opacity="0.8"/>
<circle cx="128.5" cy="320.4" r="1.0" fill="#d97f84" opacity="0.8"/>
<circle cx="76.9" cy="317.0" r="0.8" fill="#d97f84" opacity="0.8"/>
<circle cx="119.7" cy="287.9" r="0.7" fill="#d97f84" opacity="0.8"/>
<circle cx="99.7" cy="287.5" r="0.8" fill="#d97f84" opacity="0.8"/>
<circle cx="120.3" cy="309.6" r="0.9" fill="#d97f84" opacity="0.8"/>
<circle cx="109.7" cy="296.5" r="0.7" fill="#d97f84" opacity="0.8"/>
<circle cx="141.7" cy="304.1" r="0.8" fill="#d97f84" opacity="0.8"/>
<circle cx="66.9" cy="296.7" r="0.6" fill="#d97f84" opacity="0.8"/>
<circle cx="136.3" cy="328.8" r="1.0" fill="#d97f84" opacity="0.8"/>
<circle cx="140.9" cy="321.6" r="1.1" fill="#d97f84" opacity="0.8"/>
<circle cx="103.9" cy="309.4" r="1.1" fill="#d97f84" opacity="0.8"/>
<circle cx="134.1" cy="342.8" r="0.8" fill="#d97f84" opacity="0.8"/>
<circle cx="123.4" cy="308.6" r="1.1" fill="#d97f84" opacity="0.8"/>
<circle cx="135.5" cy="301.4" r="1.1" fill="#d97f84" opacity="0.8"/>
<circle cx="75.1" cy="289.0" r="0.9" fill="#d97f84" opacity="0.8"/>
<circle cx="84.1" cy="315.7" r="0.9" fill="#d97f84" opacity="0.8"/>
<circle cx="63.3" cy="329.9" r="0.7" fill="#d97f84" opacity="0.8"/>
<circle cx="95.5" cy="304.7" r="0.9" fill="#d97f84" opacity="0.8"/>
<circle cx="121.2" cy="301.1" r="0.6" fill="#d97f84" opacity="0.8"/>
<circle cx="84.5" cy="308.9" r="0.5" fill="#d97f84" opacity="0.8"/>
<circle cx="72.6" cy="331.1" r="0.9" fill="#d97f84" opacity="0.8"/>
<circle cx="140.1" cy="344.7" r="1.0" fill="#d97f84" opacity="0.8"/>
<circle cx="90.6" cy="293.2" r="0.7" fill="#d97f84" opacity="0.8"/>
<circle cx="98.0" cy="316.1" r="0.8" fill="#d97f84" opacity="0.8"/>
<circle cx="89.5" cy="336.7" r="0.7" fill="#d97f84" opacity="0.8"/>
<circle cx="98.0" cy="338.9" r="1.0" fill="#d97f84" opacity="0.8"/>
<circle cx="84.4" cy="298.3" r="1.0" fill="#d97f84" opacity="0.8"/>
<circle cx="60.8" cy="291.3" r="0.8" fill="#d97f84" opacity="0.8"/>
<circle cx="103.9" cy="293.4" r="0.5" fill="#d97f84" opacity="0.8"/>
<circle cx="76.7" cy="331.5" r="0.8" fill="#d97f84" opacity="0.8"/>
<circle cx="140.3" cy="332.5" r="1.1" fill="#d97f84" opacity="0.8"/>
<circle cx="62.9" cy="294.7" r="0.5" fill="#d97f84" opacity="0.8"/>
<circle cx="95.5" cy="304.3" r="0.5" fill="#d97f84" opacity="0.8"/>
<circle cx="104.8" cy="288.9" r="0.7" fill="#d97f84" opacity="0.8"/>
<circle cx="80.3" cy="333.5" r="0.8" fill="#d97f84" opacity="0.8"/>
<circle cx="81.3" cy="285.8" r="0.8" fill="#d97f84" opacity="0.8"/>
<circle cx="111.5" cy="325.5" r="1.0" fill="#d97f84" opacity="0.8"/>
<circle cx="126.3" cy="298.6" r="0.6" fill="#d97f84" opacity="0.8"/>
<circle cx="122.2" cy="332.7" r="0.8" fill="#d97f84" opacity="0.8"/>
<circle cx="128.1" cy="317.8" r="0.7" fill="#d97f84" opacity="0.8"/>
<circle cx="73.8" cy="284.1" r="0.9" fill="#d97f84" opacity="0.8"/>
<circle cx="133.6" cy="340.1" r="0.8" fill="#d97f84" opacity="0.8"/>
<circle cx="114.6" cy="341.5" r="1.0" fill="#d97f84" opacity="0.8"/>
<circle cx="109.4" cy="309.1" r="0.8" fill="#d97f84" opacity="0.8"/>
<circle cx="74.0" cy="294.5" r="0.9" fill="#d97f84" opacity="0.8"/>
<circle cx="141.4" cy="317.5" r="0.7" fill="#d97f84" opacity="0.8"/>
<circle cx="88.9" cy="311.7" r="1.0" fill="#d97f84" opacity="0.8"/>
<circle cx="97.1" cy="343.4" r="0.6" fill="#d97f84" opacity="0.8"/>
<circle cx="85.8" cy="315.9" r="0.7" fill="#d97f84" opacity="0.8"/>
<circle cx="129.8" cy="335.1" r="1.1" fill="#d97f84" opacity="0.8"/>
<circle cx="110.2" cy="284.9" r="0.8" fill="#d97f84" opacity="0.8"/>
<circle cx="105.1" cy="313.7" r="0.7" fill="#d97f84" opacity="0.8"/>
<circle cx="118.2" cy="340.4" r="0.6" fill="#d97f84" opacity="0.8"/>
<circle cx="114.8" cy="306.4" r="0.8" fill="#d97f84" opacity="0.8"/>
<circle cx="133.4" cy="343.5" r="0.9" fill="#d97f84" opacity="0.8"/>
<circle cx="76.0" cy="341.0" r="0.6" fill="#d97f84" opacity="0.8"/>
<circle cx="91.4" cy="335.2" r="0.7" fill="#d97f84" opacity="0.8"/>
<circle cx="82.2" cy="342.8" r="1.1" fill="#d97f84" opacity="0.8"/>
<circle cx="86.0" cy="307.7" r="0.7" fill="#d97f84" opacity="0.8"/>
<circle cx="70.8" cy="298.8" r="1.1" fill="#d97f84" opacity="0.8"/>
<circle cx="66.5" cy="297.5" r="0.6" fill="#d97f84" opacity="0.8"/>
<circle cx="66.5" cy="316.2" r="0.9" fill="#d97f84" opacity="0.8"/>
<circle cx="128.7" cy="322.8" r="1.0" fill="#d97f84" opacity="0.8"/>
<circle cx="60.4" cy="300.8" r="1.1" fill="#d97f84" opacity="0.8"/>
<circle cx="65.7" cy="299.9" r="0.8" fill="#d97f84" opacity="0.8"/>
<circle cx="82.0" cy="317.4" r="0.5" fill="#d97f84" opacity="0.8"/>
<circle cx="79.3" cy="343.3" r="0.6" fill="#d97f84" opacity="0.8"/>
<circle cx="134.3" cy="294.2" r="1.1" fill="#d97f84" opacity="0.8"/>
<circle cx="115.3" cy="323.8" r="0.6" fill="#d97f84" opacity="0.8"/>
<circle cx="64.5" cy="330.8" r="0.6" fill="#d97f84" opacity="0.8"/>
<circle cx="75.5" cy="334.8" r="1.0" fill="#d97f84" opacity="0.8"/>
<circle cx="64.0" cy="343.5" r="0.8" fill="#d97f84" opacity="0.8"/>
<circle cx="91.4" cy="289.7" r="0.7" fill="#d97f84" opacity="0.8"/>
<circle cx="141.0" cy="300.7" r="0.6" fill="#d97f84" opacity="0.8"/>
<circle cx="71.9" cy="291.0" r="0.7" fill="#d97f84" opacity="0.8"/>
<circle cx="135.0" cy="287.8" r="0.6" fill="#d97f84" opacity="0.8"/>
<circle cx="137.0" cy="345.8" r="1.1" fill="#d97f84" opacity="0.8"/>
<circle cx="80.2" cy="305.3" r="1.1" fill="#d97f84" opacity="0.8"/>
<circle cx="99.8" cy="327.3" r="0.7" fill="#d97f84" opacity="0.8"/>
<circle cx="61.8" cy="304.8" r="0.9" fill="#d97f84" opacity="0.8"/>
<circle cx="124.1" cy="318.8" r="0.8" fill="#d97f84" opacity="0.8"/>
<circle cx="104.1" cy="310.9" r="0.8" fill="#d97f84" opacity="0.8"/>
<circle cx="128.3" cy="295.6" r="0.9" fill="#d97f84" opacity="0.8"/>
<circle cx="136.5" cy="336.4" r="0.6" fill="#d97f84" opacity="0.8"/>
<circle cx="139.0" cy="335.9" r="0.6" fill="#d97f84" opacity="0.8"/>
<circle cx="81.8" cy="295.7" r="0.5" fill="#d97f84" opacity="0.8"/>
<circle cx="140.2" cy="308.8" r="1.0" fill="#d97f84" opacity="0.8"/>
<circle cx="69.4" cy="283.9" r="1.0" fill="#d97f84" opacity="0.8"/>
<circle cx="125.1" cy="345.5" r="0.9" fill="#d97f84" opacity="0.8"/>
<circle cx="103.1" cy="331.3" r="0.6" fill="#d97f84" opacity="0.8"/>
<circle cx="104.3" cy="310.8" r="0.6" fill="#d97f84" opacity="0.8"/>
<circle cx="109.2" cy="303.4" r="0.8" fill="#d97f84" opacity="0.8"/>
<circle cx="90.6" cy="303.0" r="0.7" fill="#d97f84" opacity="0.8"/>
<circle cx="109.3" cy="344.8" r="1.1" fill="#d97f84" opacity="0.8"/>
<circle cx="130.7" cy="335.6" r="0.7" fill="#d97f84" opacity="0.8"/>
<circle cx="140.1" cy="300.0" r="0.6" fill="#d97f84" opacity="0.8"/>
<circle cx="101.1" cy="329.1" r="0.7" fill="#d97f84" opacity="0.8"/>
<circle cx="112.9" cy="300.8" r="1.1" fill="#d97f84" opacity="0.8"/>
<circle cx="97.1" cy="313.1" r="0.8" fill="#d97f84" opacity="0.8"/>
<circle cx="131.7" cy="345.2" r="0.8" fill="#d97f84" opacity="0.8"/>
<circle cx="96.2" cy="321.9" r="0.5" fill="#d97f84" opacity="0.8"/>
<circle cx="94.9" cy="336.4" r="1.0" fill="#d97f84" opacity="0.8"/>
<circle cx="64.9" cy="336.8" r="0.7" fill="#d97f84" opacity="0.8"/>
<circle cx="140.5" cy="306.1" r="0.6" fill="#d97f84" opacity="0.8"/>
<circle cx="105.0" cy="338.7" r="0.8" fill="#d97f84" opacity="0.8"/>
<circle cx="131.1" cy="327.8" r="0.7" fill="#d97f84" opacity="0.8"/>
<circle cx="84.6" cy="314.8" r="0.7" fill="#d97f84" opacity="0.8"/>
<circle cx="90.5" cy="324.1" r="1.0" fill="#d97f84" opacity="0.8"/>
<circle cx="107.9" cy="292.2" r="0.6" fill="#d97f84" opacity="0.8"/>
<circle cx="90.4" cy="321.7" r="0.6" fill="#d97f84" opacity="0.8"/>
<circle cx="66.7" cy="303.2" r="0.7" fill="#d97f84" opacity="0.8"/>
<circle cx="62.4" cy="316.9" r="1.1" fill="#d97f84" opacity="0.8"/>
<circle cx="103.8" cy="329.5" r="1.0" fill="#d97f84" opacity="0.8"/>
<circle cx="128.7" cy="340.5" r="0.8" fill="#d97f84" opacity="0.8"/>
<circle cx="116.0" cy="290.6" r="1.0" fill="#d97f84" opacity="0.8"/>
<circle cx="91.0" cy="312.9" r="1.0" fill="#d97f84" opacity="0.8"/>
<circle cx="83.5" cy="295.0" r="1.0" fill="#d97f84" opacity="0.8"/>
<circle cx="109.1" cy="288.3" r="0.5" fill="#d97f84" opacity="0.8"/>
<circle cx="88.8" cy="283.5" r="1.0" fill="#d97f84" opacity="0.8"/>
<circle cx="75.1" cy="300.3" r="0.7" fill="#d97f84" opacity="0.8"/>
<circle cx="102.0" cy="310.2" r="0.9" fill="#d97f84" opacity="0.8"/>
<circle cx="114.1" cy="310.5" r="0.6" fill="#d97f84" opacity="0.8"/>
<circle cx="140.3" cy="326.5" r="0.6" fill="#d97f84" opacity="0.8"/>
<circle cx="96.2" cy="330.5" r="1.1" fill="#d97f84" opacity="0.8"/>
<circle cx="65.4" cy="283.6" r="0.8" fill="#d97f84" opacity="0.8"/>
<circle cx="94.6" cy="339.3" r="1.0" fill="#d97f84" opacity="0.8"/>
<circle cx="87.2" cy="309.4" r="0.8" fill="#d97f84" opacity="0.8"/>
<circle cx="132.5" cy="295.7" r="0.7" fill="#d97f84" opacity="0.8"/>
<circle cx="67.3" cy="323.4" r="0.5" fill="#d97f84" opacity="0.8"/>
<circle cx="136.7" cy="316.0" r="0.8" fill="#d97f84" opacity="0.8"/>
<circle cx="67.0" cy="297.6" r="0.8" fill="#d97f84" opacity="0.8"/>
<circle cx="130.3" cy="317.0" r="0.7" fill="#d97f84" opacity="0.8"/>
<circle cx="140.5" cy="324.7" r="0.8" fill="#d97f84" opacity="0.8"/>
<circle cx="76.6" cy="301.8" r="1.0" fill="#d97f84" opacity="0.8"/>
<circle cx="70.9" cy="316.5" r="0.9" fill="#d97f84" opacity="0.8"/>
<circle cx="89.1" cy="331.4" r="1.0" fill="#d97f84" opacity="0.8"/>
<circle cx="130.3" cy="329.5" r="0.6" fill="#d97f84" opacity="0.8"/>
<circle cx="64.9" cy="310.3" r="0.7" fill="#d97f84" opacity="0.8"/>
<circle cx="75.9" cy="337.9" r="0.6" fill="#d97f84" opacity="0.8"/>
<circle cx="127.5" cy="342.1" r="0.6" fill="#d97f84" opacity="0.8"/>
<circle cx="134.9" cy="308.0" r="0.6" fill="#d97f84" opacity="0.8"/>
<circle cx="75.3" cy="285.4" r="0.8" fill="#d97f84" opacity="0.8"/>
<circle cx="91.5" cy="336.6" r="1.0" fill="#d97f84" opacity="0.8"/>
<circle cx="64.7" cy="308.3" r="0.7" fill="#d97f84" opacity="0.8"/>
<circle cx="74.6" cy="298.8" r="0.7" fill="#d97f84" opacity="0.8"/>
<circle cx="116.9" cy="304.4" r="0.6" fill="#d97f84" opacity="0.8"/>
<circle cx="78.1" cy="310.9" r="0.8" fill="#d97f84" opacity="0.8"/>
<circle cx="80.1" cy="327.1" r="0.6" fill="#d97f84" opacity="0.8"/>
<circle cx="115.0" cy="321.4" r="0.6" fill="#d97f84" opacity="0.8"/>
<circle cx="121.6" cy="307.8" r="0.8" fill="#d97f84" opacity="0.8"/>
<circle cx="109.0" cy="322.6" r="0.8" fill="#d97f84" opacity="0.8"/>
<circle cx="64.6" cy="332.6" r="1.0" fill="#d97f84" opacity="0.8"/>
<circle cx="100.2" cy="319.5" r="0.7" fill="#d97f84" opacity="0.8"/>
<circle cx="133.7" cy="326.2" r="0.6" fill="#d97f84" opacity="0.8"/>
<circle cx="127.0" cy="345.1" r="0.7" fill="#d97f84" opacity="0.8"/>
<circle cx="141.6" cy="313.4" r="0.6" fill="#d97f84" opacity="0.8"/>
<circle cx="118.8" cy="304.3" r="0.9" fill="#d97f84" opacity="0.8"/>
<circle cx="107.8" cy="289.8" r="0.8" fill="#d97f84" opacity="0.8"/>
<circle cx="129.8" cy="313.1" r="0.8" fill="#d97f84" opacity="0.8"/>
<circle cx="130.8" cy="311.1" r="0.8" fill="#d97f84" opacity="0.8"/>
<circle cx="107.8" cy="334.9" r="0.6" fill="#d97f84" opacity="0.8"/>
<circle cx="67.7" cy="331.0" r="0.8" fill="#d97f84" opacity="0.8"/>
<circle cx="84.8" cy="339.2" r="1.0" fill="#d97f84" opacity="0.8"/>
<circle cx="104.4" cy="345.3" r="1.0" fill="#d97f84" opacity="0.8"/>
<circle cx="121.3" cy="301.4" r="0.5" fill="#d97f84" opacity="0.8"/>
<circle cx="115.6" cy="329.3" r="0.7" fill="#d97f84" opacity="0.8"/>
<circle cx="99.3" cy="318.7" r="0.6" fill="#d97f84" opacity="0.8"/>
<circle cx="117.2" cy="318.4" r="0.7" fill="#d97f84" opacity="0.8"/>
<circle cx="69.0" cy="317.9" r="0.7" fill="#d97f84" opacity="0.8"/>
<circle cx="119.4" cy="293.9" r="0.7" fill="#d97f84" opacity="0.8"/>
<circle cx="76.1" cy="308.7" r="0.8" fill="#d97f84" opacity="0.8"/>
<circle cx="68.8" cy="286.5" r="0.8" fill="#d97f84" opacity="0.8"/>
<circle cx="79.9" cy="314.3" r="1.3" fill="#f2b8ba" opacity="0.8"/>
<circle cx="73.0" cy="316.0" r="1.9" fill="#f2b8ba" opacity="0.8"/>
<circle cx="125.9" cy="314.8" r="1.5" fill="#f2b8ba" opacity="0.8"/>
<circle cx="70.6" cy="302.4" r="1.5" fill="#f2b8ba" opacity="0.8"/>
<circle cx="131.0" cy="294.1" r="2.0" fill="#f2b8ba" opacity="0.8"/>
<circle cx="98.9" cy="310.6" r="1.4" fill="#f2b8ba" opacity="0.8"/>
<circle cx="132.4" cy="297.7" r="1.7" fill="#f2b8ba" opacity="0.8"/>
<circle cx="101.2" cy="298.4" r="1.4" fill="#f2b8ba" opacity="0.8"/>
<circle cx="134.0" cy="329.1" r="1.8" fill="#f2b8ba" opacity="0.8"/>
<circle cx="128.3" cy="293.1" r="1.8" fill="#f2b8ba" opacity="0.8"/>
<circle cx="117.8" cy="299.7" r="1.6" fill="#f2b8ba" opacity="0.8"/>
<circle cx="133.2" cy="305.0" r="1.8" fill="#f2b8ba" opacity="0.8"/>
<circle cx="77.4" cy="322.7" r="1.4" fill="#f2b8ba" opacity="0.8"/>
<circle cx="101.1" cy="307.4" r="1.9" fill="#f2b8ba" opacity="0.8"/>
</g>
<path d="M111.7,291.2 C113,298 112,308 109.7,316.5" fill="none" stroke="#d87d81" stroke-width="0.8"/>
<path d="M205.9,346.8 C204.8,346.5 204.5,342.1 204.0,337.3 C203.5,332.5 203.0,323.3 203.0,318.2 C203.0,313.1 203.4,309.9 204.0,306.7 C204.6,303.5 205.1,301.6 206.8,299.1 C208.6,296.6 211.3,293.5 214.5,291.5 C217.7,289.5 221.8,288.1 225.9,287.3 C230.0,286.5 235.2,286.2 239.3,286.7 C243.4,287.2 248.1,289.4 250.7,290.5 C253.2,291.6 252.7,293.0 254.6,293.0 C256.5,293.0 259.0,290.8 262.2,290.5 C265.4,290.2 270.1,290.2 273.7,291.5 C277.3,292.8 283.0,295.9 283.6,298.1 C284.2,300.3 280.1,302.2 277.5,304.8 C274.9,307.4 270.8,311.0 267.9,313.4 C265.0,315.8 262.5,318.5 260.3,319.1 C258.1,319.7 256.8,316.9 254.6,317.2 C252.4,317.5 250.1,319.7 246.9,321.0 C243.7,322.3 239.3,323.8 235.5,324.9 C231.7,326.0 227.2,326.4 224.0,327.7 C220.8,329.0 218.6,330.6 216.4,332.5 C214.2,334.4 212.3,336.8 210.6,339.2 C208.8,341.6 207.0,347.1 205.9,346.8 Z" fill="#dd6466" stroke="#b3464b" stroke-width="1"/>
<path d="M254.6,292.4 C257,300 257,310 254.6,317.2" fill="none" stroke="#c25458" stroke-width="0.8"/>
<path d="M204,335 C212,326 226,322 240,320" fill="none" stroke="#c95a5e" stroke-width="1" opacity="0.6"/>
<path d="M258,313 C264,310 272,304 278,300" fill="none" stroke="#c95a5e" stroke-width="1" opacity="0.5"/>
<path d="M122,399.3 C126,405.3 129,417.3 129,431.3" fill="none" stroke="#e89a9a" stroke-width="3.6"/>
<path d="M121,386.3 L137,385.8" stroke="#c94b4b" stroke-width="3.6"/>
<ellipse cx="137" cy="385.8" rx="1.1" ry="1.6" fill="#f0a0a0"/>
<path d="M120,399.3 C125,394.3 130,391.8 137,391.3" fill="none" stroke="#4a8fd0" stroke-width="4.6"/>
<ellipse cx="137" cy="391.3" rx="1.3" ry="2" fill="#a5d6f2"/>
<clipPath id="cdk"><path d="M96.0,347.0 C100.0,347.0 106.2,347.5 110.0,348.5 C113.8,349.5 116.2,350.4 118.5,353.0 C120.8,355.6 122.6,360.2 123.5,364.0 C124.4,367.8 124.3,372.3 124.0,376.0 C123.7,379.7 122.2,382.7 121.5,386.0 C120.8,389.3 119.3,392.0 119.5,396.0 C119.7,400.0 122.0,405.2 122.5,410.0 C123.0,414.8 123.4,420.7 122.5,425.0 C121.6,429.3 119.8,433.3 117.0,436.0 C114.2,438.7 110.2,440.1 105.7,441.0 C101.2,441.9 95.0,442.5 90.0,441.5 C85.0,440.5 79.5,437.9 76.0,435.0 C72.5,432.1 70.6,428.2 69.0,424.0 C67.4,419.8 66.8,415.2 66.5,410.0 C66.2,404.8 67.4,398.3 67.5,393.0 C67.6,387.7 66.4,382.8 67.0,378.0 C67.6,373.2 69.2,368.2 71.0,364.0 C72.8,359.8 75.5,355.6 78.0,353.0 C80.5,350.4 83.0,349.5 86.0,348.5 C89.0,347.5 92.0,347.0 96.0,347.0 Z"/></clipPath>
<path d="M96.0,347.0 C100.0,347.0 106.2,347.5 110.0,348.5 C113.8,349.5 116.2,350.4 118.5,353.0 C120.8,355.6 122.6,360.2 123.5,364.0 C124.4,367.8 124.3,372.3 124.0,376.0 C123.7,379.7 122.2,382.7 121.5,386.0 C120.8,389.3 119.3,392.0 119.5,396.0 C119.7,400.0 122.0,405.2 122.5,410.0 C123.0,414.8 123.4,420.7 122.5,425.0 C121.6,429.3 119.8,433.3 117.0,436.0 C114.2,438.7 110.2,440.1 105.7,441.0 C101.2,441.9 95.0,442.5 90.0,441.5 C85.0,440.5 79.5,437.9 76.0,435.0 C72.5,432.1 70.6,428.2 69.0,424.0 C67.4,419.8 66.8,415.2 66.5,410.0 C66.2,404.8 67.4,398.3 67.5,393.0 C67.6,387.7 66.4,382.8 67.0,378.0 C67.6,373.2 69.2,368.2 71.0,364.0 C72.8,359.8 75.5,355.6 78.0,353.0 C80.5,350.4 83.0,349.5 86.0,348.5 C89.0,347.5 92.0,347.0 96.0,347.0 Z" fill="#dc6466" stroke="#c24e52" stroke-width="0.9"/>
<g clip-path="url(#cdk)">
<path d="M66,405 C70,425 85,440 105,441 C120,440 124,430 124,425 C118,436 100,438 88,432 C76,426 70,415 66,405 Z" fill="#cf5457" opacity="0.7"/>
<ellipse cx="86.1" cy="362.7" rx="1.3" ry="1.4" fill="#ec9fa0"/>
<ellipse cx="70.7" cy="423.7" rx="0.5" ry="0.6" fill="#ec9fa0"/>
<ellipse cx="88.5" cy="354.3" rx="1.1" ry="1.2" fill="#ec9fa0"/>
<ellipse cx="80.0" cy="356.8" rx="0.9" ry="1.0" fill="#ec9fa0"/>
<ellipse cx="71.9" cy="357.3" rx="0.9" ry="1.0" fill="#ec9fa0"/>
<ellipse cx="71.3" cy="400.5" rx="0.7" ry="0.8" fill="#ec9fa0"/>
<ellipse cx="103.3" cy="402.1" rx="0.5" ry="0.6" fill="#ec9fa0"/>
<ellipse cx="100.3" cy="385.1" rx="0.7" ry="0.8" fill="#ec9fa0"/>
<ellipse cx="70.6" cy="427.1" rx="0.7" ry="0.8" fill="#ec9fa0"/>
<ellipse cx="91.5" cy="398.2" rx="1.1" ry="1.2" fill="#ec9fa0"/>
<ellipse cx="85.3" cy="423.3" rx="0.7" ry="0.8" fill="#ec9fa0"/>
<ellipse cx="73.8" cy="401.0" rx="0.7" ry="0.8" fill="#ec9fa0"/>
<ellipse cx="88.9" cy="398.8" rx="0.5" ry="0.6" fill="#ec9fa0"/>
<ellipse cx="99.6" cy="405.3" rx="0.9" ry="1.0" fill="#ec9fa0"/>
<ellipse cx="106.1" cy="387.9" rx="0.7" ry="0.8" fill="#ec9fa0"/>
<ellipse cx="94.1" cy="433.0" rx="0.7" ry="0.8" fill="#ec9fa0"/>
<ellipse cx="84.8" cy="421.3" rx="1.3" ry="1.4" fill="#ec9fa0"/>
<ellipse cx="111.7" cy="356.4" rx="0.7" ry="0.8" fill="#ec9fa0"/>
<ellipse cx="97.4" cy="428.6" rx="1.3" ry="1.4" fill="#ec9fa0"/>
<ellipse cx="93.1" cy="404.4" rx="0.5" ry="0.6" fill="#ec9fa0"/>
<ellipse cx="74.6" cy="387.0" rx="0.7" ry="0.8" fill="#ec9fa0"/>
<ellipse cx="76.5" cy="393.5" rx="0.5" ry="0.6" fill="#ec9fa0"/>
<ellipse cx="121.9" cy="356.1" rx="1.1" ry="1.2" fill="#ec9fa0"/>
<ellipse cx="100.1" cy="428.7" rx="0.7" ry="0.8" fill="#ec9fa0"/>
<ellipse cx="87.0" cy="380.9" rx="0.9" ry="1.0" fill="#ec9fa0"/>
<ellipse cx="100.5" cy="390.5" rx="0.5" ry="0.6" fill="#ec9fa0"/>
<ellipse cx="120.9" cy="392.1" rx="1.3" ry="1.4" fill="#ec9fa0"/>
<ellipse cx="71.6" cy="415.5" rx="0.7" ry="0.8" fill="#ec9fa0"/>
<ellipse cx="104.2" cy="439.4" rx="0.9" ry="1.0" fill="#ec9fa0"/>
<ellipse cx="83.9" cy="384.1" rx="1.3" ry="1.4" fill="#ec9fa0"/>
<ellipse cx="87.4" cy="434.6" rx="0.7" ry="0.8" fill="#ec9fa0"/>
<ellipse cx="77.4" cy="359.7" rx="0.5" ry="0.6" fill="#ec9fa0"/>
<ellipse cx="80.2" cy="375.2" rx="1.3" ry="1.4" fill="#ec9fa0"/>
<ellipse cx="81.9" cy="384.6" rx="0.9" ry="1.0" fill="#ec9fa0"/>
<ellipse cx="72.5" cy="389.9" rx="1.1" ry="1.2" fill="#ec9fa0"/>
<ellipse cx="83.6" cy="361.5" rx="0.9" ry="1.0" fill="#ec9fa0"/>
<ellipse cx="116.4" cy="374.3" rx="0.9" ry="1.0" fill="#ec9fa0"/>
<ellipse cx="123.2" cy="411.1" rx="0.9" ry="1.0" fill="#ec9fa0"/>
<ellipse cx="121.6" cy="362.7" rx="0.7" ry="0.8" fill="#ec9fa0"/>
<ellipse cx="76.5" cy="408.9" rx="0.5" ry="0.6" fill="#ec9fa0"/>
<ellipse cx="96.6" cy="367.0" rx="3.1" ry="3.6" fill="#e98f92" stroke="#d9787b" stroke-width="0.4"/>
<ellipse cx="96.0" cy="366.3" rx="1.8" ry="2.2" fill="#f0b2b3"/>
<ellipse cx="107.7" cy="375.1" rx="4.1" ry="4.9" fill="#e98f92" stroke="#d9787b" stroke-width="0.4"/>
<ellipse cx="106.9" cy="374.2" rx="2.4" ry="2.9" fill="#f0b2b3"/>
<ellipse cx="111.7" cy="365.0" rx="2.4" ry="2.8" fill="#e98f92" stroke="#d9787b" stroke-width="0.4"/>
<ellipse cx="111.3" cy="364.5" rx="1.4" ry="1.7" fill="#f0b2b3"/>
<ellipse cx="85.4" cy="393.3" rx="3.4" ry="4.0" fill="#e98f92" stroke="#d9787b" stroke-width="0.4"/>
<ellipse cx="84.8" cy="392.5" rx="2.0" ry="2.4" fill="#f0b2b3"/>
<ellipse cx="99.6" cy="389.3" rx="2.4" ry="2.8" fill="#e98f92" stroke="#d9787b" stroke-width="0.4"/>
<ellipse cx="99.2" cy="388.7" rx="1.4" ry="1.7" fill="#f0b2b3"/>
<ellipse cx="95.5" cy="415.6" rx="3.1" ry="3.6" fill="#e98f92" stroke="#d9787b" stroke-width="0.4"/>
<ellipse cx="95.0" cy="414.8" rx="1.8" ry="2.2" fill="#f0b2b3"/>
<ellipse cx="77.3" cy="403.4" rx="2.1" ry="2.4" fill="#e98f92" stroke="#d9787b" stroke-width="0.4"/>
<ellipse cx="77.0" cy="403.0" rx="1.2" ry="1.5" fill="#f0b2b3"/>
<ellipse cx="105.7" cy="403.4" rx="2.1" ry="2.4" fill="#e98f92" stroke="#d9787b" stroke-width="0.4"/>
<ellipse cx="105.3" cy="403.0" rx="1.2" ry="1.5" fill="#f0b2b3"/>
<ellipse cx="83.4" cy="365.0" rx="1.7" ry="2.0" fill="#e98f92" stroke="#d9787b" stroke-width="0.4"/>
<ellipse cx="83.1" cy="364.6" rx="1.0" ry="1.2" fill="#f0b2b3"/>
<ellipse cx="111.7" cy="415.6" rx="1.7" ry="2.0" fill="#e98f92" stroke="#d9787b" stroke-width="0.4"/>
<ellipse cx="111.4" cy="415.2" rx="1.0" ry="1.2" fill="#f0b2b3"/>
<ellipse cx="71.3" cy="383.2" rx="1.7" ry="2.0" fill="#e98f92" stroke="#d9787b" stroke-width="0.4"/>
<ellipse cx="71.0" cy="382.8" rx="1.0" ry="1.2" fill="#f0b2b3"/>
<ellipse cx="91.5" cy="379.2" rx="1.7" ry="2.0" fill="#e98f92" stroke="#d9787b" stroke-width="0.4"/>
<ellipse cx="91.2" cy="378.8" rx="1.0" ry="1.2" fill="#f0b2b3"/>
<ellipse cx="105.7" cy="429.7" rx="2.1" ry="2.4" fill="#e98f92" stroke="#d9787b" stroke-width="0.4"/>
<ellipse cx="105.3" cy="429.2" rx="1.2" ry="1.5" fill="#f0b2b3"/>
<ellipse cx="85.4" cy="427.7" rx="1.7" ry="2.0" fill="#e98f92" stroke="#d9787b" stroke-width="0.4"/>
<ellipse cx="85.1" cy="427.3" rx="1.0" ry="1.2" fill="#f0b2b3"/>
</g>
<path d="M257.5,399.5 C261.5,405.5 264.5,417.5 264.5,431.5" fill="none" stroke="#e89a9a" stroke-width="3.6"/>
<path d="M256.5,386.5 L272.5,386.0" stroke="#c94b4b" stroke-width="3.6"/>
<ellipse cx="272.5" cy="386.0" rx="1.1" ry="1.6" fill="#f0a0a0"/>
<path d="M255.5,399.5 C260.5,394.5 265.5,392.0 272.5,391.5" fill="none" stroke="#4a8fd0" stroke-width="4.6"/>
<ellipse cx="272.5" cy="391.5" rx="1.3" ry="2" fill="#a5d6f2"/>
<path d="M239.3,356.4 C244.4,356.4 251.1,359.2 254.6,362.1 C258.1,365.0 259.5,370.1 260.3,373.6 C261.1,377.1 260.2,380.6 259.3,383.1 C258.4,385.6 255.9,386.9 254.6,388.8 C253.3,390.7 251.7,392.4 251.7,394.6 C251.7,396.8 253.3,399.0 254.6,402.2 C255.9,405.4 259.0,409.9 259.3,413.7 C259.6,417.5 258.6,422.1 256.5,425.1 C254.4,428.1 250.4,430.5 246.9,431.8 C243.4,433.1 239.3,433.5 235.5,432.7 C231.7,431.9 227.0,430.2 224.0,427.0 C221.0,423.8 218.7,419.1 217.3,413.7 C215.9,408.3 215.4,401.0 215.4,394.6 C215.4,388.2 215.9,380.9 217.3,375.5 C218.7,370.1 220.3,365.3 224.0,362.1 C227.7,358.9 234.2,356.4 239.3,356.4 Z" fill="#dd6466" stroke="#b3464b" stroke-width="1"/>
<path d="M219,370 C215,390 216,412 228,426 C236,432 246,432 250,430 C236,428 224,420 220,404 C217,392 217,380 219,370 Z" fill="#c94e52" opacity="0.75"/>
<line x1="53.7" y1="581.3" x2="151.2" y2="581.3" stroke="#ffffff" stroke-width="1.2"/>
<polyline points="54.20,529.53 54.70,528.76 55.20,528.50 55.70,528.76 56.20,529.53 56.70,530.79 57.20,532.50 57.70,534.61 58.20,537.07 58.70,539.80 59.20,542.74 59.70,545.82 60.20,548.96 60.70,552.10 61.20,555.19 61.70,558.16 62.20,560.98 62.70,563.62 63.20,566.04 63.70,568.24 64.20,570.21 64.70,571.95 65.20,573.46 65.70,574.77 66.20,575.88 66.70,576.81 67.20,577.58 67.70,578.22 68.20,578.73 68.70,579.14 69.20,579.47" fill="none" stroke="#4a94d0" stroke-width="1.3"/>
<polyline points="57.00,579.14 57.50,578.71 58.00,578.17 58.50,577.49 59.00,576.65 59.50,575.64 60.00,574.41 60.50,572.95 61.00,571.23 61.50,569.23 62.00,566.94 62.50,564.35 63.00,561.45 63.50,558.26 64.00,554.79 64.50,551.08 65.00,547.16 65.50,543.09 66.00,538.95 66.50,534.81 67.00,530.76 67.50,526.88 68.00,523.28 68.50,520.05 69.00,517.27 69.50,515.01 70.00,513.36 70.50,512.34 71.00,512.00 71.50,512.34 72.00,513.36 72.50,515.01 73.00,517.27 73.50,520.05 74.00,523.28 74.50,526.88 75.00,530.76 75.50,534.81 76.00,538.95 76.50,543.09 77.00,547.16 77.50,551.08 78.00,554.79 78.50,558.26 79.00,561.45 79.50,564.35 80.00,566.94 80.50,569.23 81.00,571.23 81.50,572.95 82.00,574.41 82.50,575.64 83.00,576.65 83.50,577.49 84.00,578.17 84.50,578.71 85.00,579.14" fill="none" stroke="#e2675e" stroke-width="1.3"/>
<polyline points="73.20,579.14 73.70,578.71 74.20,578.17 74.70,577.49 75.20,576.65 75.70,575.64 76.20,574.41 76.70,572.95 77.20,571.23 77.70,569.23 78.20,566.94 78.70,564.35 79.20,561.45 79.70,558.26 80.20,554.79 80.70,551.08 81.20,547.16 81.70,543.09 82.20,538.95 82.70,534.81 83.20,530.76 83.70,526.88 84.20,523.28 84.70,520.05 85.20,517.27 85.70,515.01 86.20,513.36 86.70,512.34 87.20,512.00 87.70,512.34 88.20,513.36 88.70,515.01 89.20,517.27 89.70,520.05 90.20,523.28 90.70,526.88 91.20,530.76 91.70,534.81 92.20,538.95 92.70,543.09 93.20,547.16 93.70,551.08 94.20,554.79 94.70,558.26 95.20,561.45 95.70,564.35 96.20,566.94 96.70,569.23 97.20,571.23 97.70,572.95 98.20,574.41 98.70,575.64 99.20,576.65 99.70,577.49 100.20,578.17 100.70,578.71 101.20,579.14" fill="none" stroke="#59b15a" stroke-width="1.3"/>
<polyline points="89.20,579.05 89.70,578.59 90.20,578.00 90.70,577.28 91.20,576.39 91.70,575.30 92.20,573.98 92.70,572.42 93.20,570.58 93.70,568.44 94.20,565.99 94.70,563.22 95.20,560.12 95.70,556.70 96.20,552.99 96.70,549.01 97.20,544.82 97.70,540.47 98.20,536.04 98.70,531.61 99.20,527.27 99.70,523.13 100.20,519.27 100.70,515.81 101.20,512.84 101.70,510.43 102.20,508.65 102.70,507.57 103.20,507.20 103.70,507.57 104.20,508.65 104.70,510.43 105.20,512.84 105.70,515.81 106.20,519.27 106.70,523.13 107.20,527.27 107.70,531.61 108.20,536.04 108.70,540.47 109.20,544.82 109.70,549.01 110.20,552.99 110.70,556.70 111.20,560.12 111.70,563.22 112.20,565.99 112.70,568.44 113.20,570.58 113.70,572.42 114.20,573.98 114.70,575.30 115.20,576.39 115.70,577.28 116.20,578.00 116.70,578.59 117.20,579.05" fill="none" stroke="#4a94d0" stroke-width="1.3"/>
<polyline points="105.30,579.05 105.80,578.59 106.30,578.00 106.80,577.28 107.30,576.39 107.80,575.30 108.30,573.98 108.80,572.42 109.30,570.58 109.80,568.44 110.30,565.99 110.80,563.22 111.30,560.12 111.80,556.70 112.30,552.99 112.80,549.01 113.30,544.82 113.80,540.47 114.30,536.04 114.80,531.61 115.30,527.27 115.80,523.13 116.30,519.27 116.80,515.81 117.30,512.84 117.80,510.43 118.30,508.65 118.80,507.57 119.30,507.20 119.80,507.57 120.30,508.65 120.80,510.43 121.30,512.84 121.80,515.81 122.30,519.27 122.80,523.13 123.30,527.27 123.80,531.61 124.30,536.04 124.80,540.47 125.30,544.82 125.80,549.01 126.30,552.99 126.80,556.70 127.30,560.12 127.80,563.22 128.30,565.99 128.80,568.44 129.30,570.58 129.80,572.42 130.30,573.98 130.80,575.30 131.30,576.39 131.80,577.28 132.30,578.00 132.80,578.59 133.30,579.05" fill="none" stroke="#a67cc4" stroke-width="1.3"/>
<polyline points="121.20,579.37 121.70,579.02 122.20,578.57 122.70,578.00 123.20,577.31 123.70,576.47 124.20,575.45 124.70,574.24 125.20,572.81 125.70,571.16 126.20,569.26 126.70,567.11 127.20,564.71 127.70,562.06 128.20,559.18 128.70,556.10 129.20,552.85 129.70,549.48 130.20,546.05 130.70,542.62 131.20,539.25 131.70,536.04 132.20,533.06 132.70,530.37 133.20,528.07 133.70,526.20 134.20,524.82 134.70,523.98 135.20,523.70 135.70,523.98 136.20,524.82 136.70,526.20 137.20,528.07 137.70,530.37 138.20,533.06 138.70,536.04 139.20,539.25 139.70,542.62 140.20,546.05 140.70,549.48 141.20,552.85 141.70,556.10 142.20,559.18 142.70,562.06 143.20,564.71 143.70,567.11 144.20,569.26 144.70,571.16 145.20,572.81 145.70,574.24 146.20,575.45 146.70,576.47 147.20,577.31 147.70,578.00 148.20,578.57 148.70,579.02 149.20,579.37" fill="none" stroke="#59b15a" stroke-width="1.3"/>
<polyline points="138.40,579.29 138.90,578.91 139.40,578.42 139.90,577.82 140.40,577.08 140.90,576.17 141.40,575.08 141.90,573.77 142.40,572.24 142.90,570.47 143.40,568.43 143.90,566.12 144.40,563.54 144.90,560.70 145.40,557.61 145.90,554.30 146.40,550.81 146.90,547.19 147.40,543.50 147.90,539.81 148.40,536.20 148.90,532.76 149.40,529.55 149.90,526.67 150.40,524.19 150.90,522.18 151.40,520.71" fill="none" stroke="#e2675e" stroke-width="1.3"/>
<circle cx="206.3" cy="524" r="12" fill="#eda4a8" stroke="#e39499" stroke-width="0.6"/>
<circle cx="210" cy="563" r="12" fill="#eda4a8" stroke="#e39499" stroke-width="0.6"/>
<circle cx="257" cy="568" r="12" fill="#eda4a8" stroke="#e39499" stroke-width="0.6"/>
<circle cx="234.1" cy="568.6" r="17.2" fill="#e7878d" stroke="#d3707a" stroke-width="0.8"/>
<circle cx="234.7" cy="567.6" r="13.76" fill="#eb989d"/>
<circle cx="234.9" cy="568.4" r="8.943999999999999" fill="#e6888e"/>
<circle cx="221.3" cy="512.1" r="17.1" fill="#e7878d" stroke="#d3707a" stroke-width="0.8"/>
<circle cx="221.9" cy="511.1" r="13.680000000000001" fill="#eb989d"/>
<circle cx="222.10000000000002" cy="511.90000000000003" r="8.892000000000001" fill="#e6888e"/>
<circle cx="253.3" cy="514.2" r="17.4" fill="#e7878d" stroke="#d3707a" stroke-width="0.8"/>
<circle cx="253.9" cy="513.2" r="13.92" fill="#eb989d"/>
<circle cx="254.10000000000002" cy="514.0" r="9.048" fill="#e6888e"/>
<circle cx="206.9" cy="543.6" r="16.6" fill="#e7878d" stroke="#d3707a" stroke-width="0.8"/>
<circle cx="207.5" cy="542.6" r="13.280000000000001" fill="#eb989d"/>
<circle cx="207.70000000000002" cy="543.4" r="8.632000000000001" fill="#e6888e"/>
<circle cx="263.4" cy="545.7" r="16.4" fill="#e7878d" stroke="#d3707a" stroke-width="0.8"/>
<circle cx="264.0" cy="544.7" r="13.12" fill="#eb989d"/>
<circle cx="264.2" cy="545.5" r="8.527999999999999" fill="#e6888e"/>
<circle cx="233.6" cy="537.7" r="17.3" fill="#e7878d" stroke="#d3707a" stroke-width="0.8"/>
<circle cx="234.2" cy="536.7" r="13.840000000000002" fill="#eb989d"/>
<circle cx="234.4" cy="537.5" r="8.996" fill="#e6888e"/>
<circle cx="196.8" cy="512.7" r="3.9" fill="#e6bf45" stroke="#c29a2c" stroke-width="0.7"/>
<circle cx="182.3" cy="524.5" r="3.9" fill="#e6bf45" stroke="#c29a2c" stroke-width="0.7"/>
<circle cx="284.9" cy="502.2" r="3.9" fill="#e6bf45" stroke="#c29a2c" stroke-width="0.7"/>
<circle cx="278.9" cy="524.5" r="3.9" fill="#e6bf45" stroke="#c29a2c" stroke-width="0.7"/>
<circle cx="185.4" cy="570.2" r="3.9" fill="#e6bf45" stroke="#c29a2c" stroke-width="0.7"/>
<circle cx="208.2" cy="574.9" r="3.9" fill="#e6bf45" stroke="#c29a2c" stroke-width="0.7"/>
<circle cx="258.1" cy="569.4" r="3.9" fill="#e6bf45" stroke="#c29a2c" stroke-width="0.7"/>
<circle cx="283.3" cy="574.9" r="3.9" fill="#e6bf45" stroke="#c29a2c" stroke-width="0.7"/>
<circle cx="790.9" cy="355.4" r="12.5" fill="#eda4a8" stroke="#e39499" stroke-width="0.6"/>
<circle cx="792" cy="397" r="11.5" fill="#eda4a8" stroke="#e39499" stroke-width="0.6"/>
<circle cx="839.2" cy="402.6" r="11.5" fill="#eda4a8" stroke="#e39499" stroke-width="0.6"/>
<circle cx="816.2" cy="401.4" r="17.4" fill="#e7878d" stroke="#d3707a" stroke-width="0.8"/>
<circle cx="816.8000000000001" cy="400.4" r="13.92" fill="#eb989d"/>
<circle cx="817.0" cy="401.2" r="9.048" fill="#e6888e"/>
<circle cx="803.2" cy="347.5" r="17.1" fill="#e7878d" stroke="#d3707a" stroke-width="0.8"/>
<circle cx="803.8000000000001" cy="346.5" r="13.680000000000001" fill="#eb989d"/>
<circle cx="804.0" cy="347.3" r="8.892000000000001" fill="#e6888e"/>
<circle cx="835.3" cy="349.2" r="17.6" fill="#e7878d" stroke="#d3707a" stroke-width="0.8"/>
<circle cx="835.9" cy="348.2" r="14.080000000000002" fill="#eb989d"/>
<circle cx="836.0999999999999" cy="349.0" r="9.152000000000001" fill="#e6888e"/>
<circle cx="789.2" cy="377.8" r="16.5" fill="#e7878d" stroke="#d3707a" stroke-width="0.8"/>
<circle cx="789.8000000000001" cy="376.8" r="13.200000000000001" fill="#eb989d"/>
<circle cx="790.0" cy="377.6" r="8.58" fill="#e6888e"/>
<circle cx="844.8" cy="379.5" r="16" fill="#e7878d" stroke="#d3707a" stroke-width="0.8"/>
<circle cx="845.4" cy="378.5" r="12.8" fill="#eb989d"/>
<circle cx="845.5999999999999" cy="379.3" r="8.32" fill="#e6888e"/>
<circle cx="815.6" cy="371.7" r="17.2" fill="#e7878d" stroke="#d3707a" stroke-width="0.8"/>
<circle cx="816.2" cy="370.7" r="13.76" fill="#eb989d"/>
<circle cx="816.4" cy="371.5" r="8.943999999999999" fill="#e6888e"/>
<polygon points="738.1,511.4 727.4,505.9 718.2,504.0 717.8,505.6 726.3,508.2 735.2,515.7" fill="#55a6da" stroke="#55a6da" stroke-width="2" stroke-linejoin="round"/>
<polygon points="745.8,507.7 741.7,499.3 738.5,493.9 737.1,494.6 739.3,500.2 740.8,509.3" fill="#55a6da" stroke="#55a6da" stroke-width="2" stroke-linejoin="round"/>
<polygon points="750.3,508.0 749.3,501.0 748.7,495.9 747.1,496.0 746.8,501.0 745.1,507.8" fill="#55a6da" stroke="#55a6da" stroke-width="2" stroke-linejoin="round"/>
<polygon points="752.8,509.0 752.7,504.3 752.9,502.1 751.4,501.6 750.2,503.6 747.8,507.7" fill="#55a6da" stroke="#55a6da" stroke-width="2" stroke-linejoin="round"/>
<polygon points="757.0,512.3 762.8,503.0 766.2,497.7 765.0,496.7 760.8,501.5 753.0,509.1" fill="#55a6da" stroke="#55a6da" stroke-width="2" stroke-linejoin="round"/>
<polygon points="759.9,519.9 769.6,516.1 777.5,514.9 777.3,513.3 769.2,513.7 758.6,514.9" fill="#55a6da" stroke="#55a6da" stroke-width="2" stroke-linejoin="round"/>
<polygon points="759.4,523.9 765.5,523.0 768.9,522.9 769.1,521.3 765.7,520.5 759.8,518.7" fill="#55a6da" stroke="#55a6da" stroke-width="2" stroke-linejoin="round"/>
<polygon points="757.9,527.2 769.0,529.8 778.0,532.5 778.5,531.0 769.8,527.5 759.7,522.3" fill="#55a6da" stroke="#55a6da" stroke-width="2" stroke-linejoin="round"/>
<polygon points="754.0,531.2 764.3,539.8 770.2,543.8 771.1,542.5 766.0,538.0 757.7,527.5" fill="#55a6da" stroke="#55a6da" stroke-width="2" stroke-linejoin="round"/>
<polygon points="750.6,532.7 758.4,544.6 762.4,550.3 763.8,549.5 760.6,543.4 755.2,530.2" fill="#55a6da" stroke="#55a6da" stroke-width="2" stroke-linejoin="round"/>
<polygon points="742.4,532.3 741.8,544.2 741.2,552.3 742.8,552.5 744.3,544.6 747.6,533.2" fill="#55a6da" stroke="#55a6da" stroke-width="2" stroke-linejoin="round"/>
<polygon points="736.6,527.6 727.9,538.6 721.4,542.4 722.2,543.8 729.5,540.6 740.3,531.2" fill="#55a6da" stroke="#55a6da" stroke-width="2" stroke-linejoin="round"/>
<polygon points="734.3,519.7 724.2,522.7 716.3,523.8 716.4,525.4 724.5,525.2 735.1,524.9" fill="#55a6da" stroke="#55a6da" stroke-width="2" stroke-linejoin="round"/>
<polygon points="735.0,516.4 729.5,517.1 726.1,517.1 725.9,518.6 729.2,519.6 734.4,521.6" fill="#55a6da" stroke="#55a6da" stroke-width="2" stroke-linejoin="round"/>
<polygon points="739.0,530.3 737.4,536.2 736.3,538.4 737.6,539.4 739.6,537.4 743.6,532.7" fill="#55a6da" stroke="#55a6da" stroke-width="2" stroke-linejoin="round"/>
<circle cx="747.1" cy="520.4" r="15.6" fill="#55a6da"/>
<polygon points="738.1,511.4 727.4,505.9 718.2,504.0 717.8,505.6 726.3,508.2 735.2,515.7" fill="#a6d6f3" stroke="#a6d6f3" stroke-width="0.4" stroke-linejoin="round"/>
<polygon points="745.8,507.7 741.7,499.3 738.5,493.9 737.1,494.6 739.3,500.2 740.8,509.3" fill="#a6d6f3" stroke="#a6d6f3" stroke-width="0.4" stroke-linejoin="round"/>
<polygon points="750.3,508.0 749.3,501.0 748.7,495.9 747.1,496.0 746.8,501.0 745.1,507.8" fill="#a6d6f3" stroke="#a6d6f3" stroke-width="0.4" stroke-linejoin="round"/>
<polygon points="752.8,509.0 752.7,504.3 752.9,502.1 751.4,501.6 750.2,503.6 747.8,507.7" fill="#a6d6f3" stroke="#a6d6f3" stroke-width="0.4" stroke-linejoin="round"/>
<polygon points="757.0,512.3 762.8,503.0 766.2,497.7 765.0,496.7 760.8,501.5 753.0,509.1" fill="#a6d6f3" stroke="#a6d6f3" stroke-width="0.4" stroke-linejoin="round"/>
<polygon points="759.9,519.9 769.6,516.1 777.5,514.9 777.3,513.3 769.2,513.7 758.6,514.9" fill="#a6d6f3" stroke="#a6d6f3" stroke-width="0.4" stroke-linejoin="round"/>
<polygon points="759.4,523.9 765.5,523.0 768.9,522.9 769.1,521.3 765.7,520.5 759.8,518.7" fill="#a6d6f3" stroke="#a6d6f3" stroke-width="0.4" stroke-linejoin="round"/>
<polygon points="757.9,527.2 769.0,529.8 778.0,532.5 778.5,531.0 769.8,527.5 759.7,522.3" fill="#a6d6f3" stroke="#a6d6f3" stroke-width="0.4" stroke-linejoin="round"/>
<polygon points="754.0,531.2 764.3,539.8 770.2,543.8 771.1,542.5 766.0,538.0 757.7,527.5" fill="#a6d6f3" stroke="#a6d6f3" stroke-width="0.4" stroke-linejoin="round"/>
<polygon points="750.6,532.7 758.4,544.6 762.4,550.3 763.8,549.5 760.6,543.4 755.2,530.2" fill="#a6d6f3" stroke="#a6d6f3" stroke-width="0.4" stroke-linejoin="round"/>
<polygon points="742.4,532.3 741.8,544.2 741.2,552.3 742.8,552.5 744.3,544.6 747.6,533.2" fill="#a6d6f3" stroke="#a6d6f3" stroke-width="0.4" stroke-linejoin="round"/>
<polygon points="736.6,527.6 727.9,538.6 721.4,542.4 722.2,543.8 729.5,540.6 740.3,531.2" fill="#a6d6f3" stroke="#a6d6f3" stroke-width="0.4" stroke-linejoin="round"/>
<polygon points="734.3,519.7 724.2,522.7 716.3,523.8 716.4,525.4 724.5,525.2 735.1,524.9" fill="#a6d6f3" stroke="#a6d6f3" stroke-width="0.4" stroke-linejoin="round"/>
<polygon points="735.0,516.4 729.5,517.1 726.1,517.1 725.9,518.6 729.2,519.6 734.4,521.6" fill="#a6d6f3" stroke="#a6d6f3" stroke-width="0.4" stroke-linejoin="round"/>
<polygon points="739.0,530.3 737.4,536.2 736.3,538.4 737.6,539.4 739.6,537.4 743.6,532.7" fill="#a6d6f3" stroke="#a6d6f3" stroke-width="0.4" stroke-linejoin="round"/>
<circle cx="747.1" cy="520.4" r="14.8" fill="#a6d6f3"/>
<circle cx="747.1" cy="520.4" r="13.2" fill="#bae1f7"/>
<circle cx="747.1" cy="520.4" r="9.7" fill="#93cbef"/>
<path d="M807.9,502.4 L832.3,502.4 Q834,502.4 835,504 L839.5,511 Q838.2,513.5 839.4,515.2 Q840.6,516.1 841.6,516.4 L845.5,523.5 Q846,524.5 845.5,525.5 L834.5,545 Q833.6,546.3 832,546.3 L824.2,546.3 L822.3,543.6 Q820.6,541.8 818.9,543.6 L817.3,546.3 L808.5,546.3 Q807,546.3 806.3,545 L795.5,526 Q795,525 795.5,524 L799.2,516.8 Q800.6,516.3 801.9,515.8 Q803,513.6 802.3,511.4 L806,504 Q806.8,502.4 807.9,502.4 Z" fill="#a6d6f3" stroke="#4f98cf" stroke-width="0.9"/>
<path d="M813,508 L828,508 Q830.5,508 832,510.5 L838.5,521.5 Q840,524.5 838.5,527.5 L832,538.5 Q830.5,541 828,541 L813,541 Q810.5,541 809,538.5 L802.5,527.5 Q801,524.5 802.5,521.5 L809,510.5 Q810.5,508 813,508 Z" fill="#bae1f7" opacity="0.9"/>
<circle cx="821.1" cy="523.2" r="13.1" fill="#9dd1f2"/>
<polygon points="875.1,520.5 863.8,521.7 863.8,523.9 875.1,525.3" fill="#55a6da" stroke="#55a6da" stroke-width="2.2" stroke-linejoin="round"/>
<circle cx="863.8" cy="522.8" r="3.9" fill="#55a6da"/>
<polygon points="885.7,509.7 883.1,501.5 881.5,502.9 882.0,512.8" fill="#55a6da" stroke="#55a6da" stroke-width="2.2" stroke-linejoin="round"/>
<circle cx="882.3" cy="502.2" r="4" fill="#55a6da"/>
<polygon points="903.2,507.6 901.9,498.0 899.7,498.0 898.4,507.4" fill="#55a6da" stroke="#55a6da" stroke-width="2.2" stroke-linejoin="round"/>
<circle cx="900.8" cy="498" r="3.9" fill="#55a6da"/>
<polygon points="922.0,516.1 925.8,506.5 924.6,504.7 919.3,512.2" fill="#55a6da" stroke="#55a6da" stroke-width="2.2" stroke-linejoin="round"/>
<circle cx="925.2" cy="505.6" r="4" fill="#55a6da"/>
<polygon points="925.0,526.0 937.4,525.6 937.4,523.4 925.2,521.2" fill="#55a6da" stroke="#55a6da" stroke-width="2.2" stroke-linejoin="round"/>
<circle cx="937.4" cy="524.5" r="4" fill="#55a6da"/>
<polygon points="921.9,531.6 928.1,536.9 929.1,534.9 923.9,527.2" fill="#55a6da" stroke="#55a6da" stroke-width="2.2" stroke-linejoin="round"/>
<circle cx="928.6" cy="535.9" r="3.1" fill="#55a6da"/>
<polygon points="912.7,537.0 917.2,548.7 919.0,547.5 916.6,534.2" fill="#55a6da" stroke="#55a6da" stroke-width="2.2" stroke-linejoin="round"/>
<circle cx="918.1" cy="548.1" r="4" fill="#55a6da"/>
<polygon points="896.1,538.3 897.2,550.5 899.4,550.7 900.9,538.6" fill="#55a6da" stroke="#55a6da" stroke-width="2.2" stroke-linejoin="round"/>
<circle cx="898.3" cy="550.6" r="4" fill="#55a6da"/>
<polygon points="879.5,531.2 871.9,545.6 873.3,547.2 882.6,534.9" fill="#55a6da" stroke="#55a6da" stroke-width="2.2" stroke-linejoin="round"/>
<circle cx="872.6" cy="546.4" r="4" fill="#55a6da"/>
<polygon points="873.5,521.1 885.3,510.2 897.9,508.1 918.9,511 929,522 926.5,531.2 914.7,539.7 897.9,541.3 879.4,536.3" fill="#55a6da" stroke="#55a6da" stroke-width="3" stroke-linejoin="round"/>
<polygon points="875.1,520.5 863.8,521.7 863.8,523.9 875.1,525.3" fill="#a6d6f3" stroke="#a6d6f3" stroke-width="0.4" stroke-linejoin="round"/>
<circle cx="863.8" cy="522.8" r="2.9" fill="#a6d6f3"/>
<polygon points="885.7,509.7 883.1,501.5 881.5,502.9 882.0,512.8" fill="#a6d6f3" stroke="#a6d6f3" stroke-width="0.4" stroke-linejoin="round"/>
<circle cx="882.3" cy="502.2" r="3" fill="#a6d6f3"/>
<polygon points="903.2,507.6 901.9,498.0 899.7,498.0 898.4,507.4" fill="#a6d6f3" stroke="#a6d6f3" stroke-width="0.4" stroke-linejoin="round"/>
<circle cx="900.8" cy="498" r="2.9" fill="#a6d6f3"/>
<polygon points="922.0,516.1 925.8,506.5 924.6,504.7 919.3,512.2" fill="#a6d6f3" stroke="#a6d6f3" stroke-width="0.4" stroke-linejoin="round"/>
<circle cx="925.2" cy="505.6" r="3" fill="#a6d6f3"/>
<polygon points="925.0,526.0 937.4,525.6 937.4,523.4 925.2,521.2" fill="#a6d6f3" stroke="#a6d6f3" stroke-width="0.4" stroke-linejoin="round"/>
<circle cx="937.4" cy="524.5" r="3" fill="#a6d6f3"/>
<polygon points="921.9,531.6 928.1,536.9 929.1,534.9 923.9,527.2" fill="#a6d6f3" stroke="#a6d6f3" stroke-width="0.4" stroke-linejoin="round"/>
<circle cx="928.6" cy="535.9" r="2.1" fill="#a6d6f3"/>
<polygon points="912.7,537.0 917.2,548.7 919.0,547.5 916.6,534.2" fill="#a6d6f3" stroke="#a6d6f3" stroke-width="0.4" stroke-linejoin="round"/>
<circle cx="918.1" cy="548.1" r="3" fill="#a6d6f3"/>
<polygon points="896.1,538.3 897.2,550.5 899.4,550.7 900.9,538.6" fill="#a6d6f3" stroke="#a6d6f3" stroke-width="0.4" stroke-linejoin="round"/>
<circle cx="898.3" cy="550.6" r="3" fill="#a6d6f3"/>
<polygon points="879.5,531.2 871.9,545.6 873.3,547.2 882.6,534.9" fill="#a6d6f3" stroke="#a6d6f3" stroke-width="0.4" stroke-linejoin="round"/>
<circle cx="872.6" cy="546.4" r="3" fill="#a6d6f3"/>
<polygon points="873.5,521.1 885.3,510.2 897.9,508.1 918.9,511 929,522 926.5,531.2 914.7,539.7 897.9,541.3 879.4,536.3" fill="#a6d6f3" stroke="#a6d6f3" stroke-width="1" stroke-linejoin="round"/>
<ellipse cx="902.5" cy="522.4" rx="21" ry="12.2" fill="#bae1f7"/>
<ellipse cx="902.9" cy="522" rx="13" ry="8.2" fill="#93cbef"/>
<circle cx="617.5" cy="689.9" r="51.5" fill="#d6dae3"/>
<path d="M574.4,686.8 L613.2,664.9 L639.3,664.9 L661.2,676.7 L661.2,694.4 L622.5,716.3 L596.3,716.3 L574.4,703.6 Z" fill="#9da2ad"/>
<path d="M574.4,684.3 L613.2,662.4 L639.3,662.4 L661.2,674.2 L661.2,691.9 L622.5,713.8 L596.3,713.8 L574.4,701.1 Z" fill="#ebecf0" stroke="#8b909c" stroke-width="0.6"/>
<path d="M582,695.2 L604.8,696 L630.9,680.6 L652.8,680.6" fill="none" stroke="#eab1b1" stroke-width="3"/>
<path d="M582,695.2 L604.8,696 L630.9,680.6 L652.8,680.6" fill="none" stroke="#d97070" stroke-width="0.9"/>
<circle cx="582" cy="695" r="1.6" fill="#c94f4f"/><circle cx="652.8" cy="680.6" r="1.6" fill="#c94f4f"/>
<path d="M604.8,696 L604.8,707.5 M630.9,680.6 L630.9,668.5" stroke="#2d78b5" stroke-width="1.3"/>
<circle cx="604.8" cy="707.5" r="2.3" fill="#2d78b5"/><circle cx="630.9" cy="668.5" r="2.3" fill="#2d78b5"/>
<rect x="602.5" y="708.5" width="4.6" height="3" fill="#8fb7d8"/>
<circle cx="664.9" cy="795.7" r="51.3" fill="#b8e0f5" stroke="#4b93cb" stroke-width="1.1"/>
<clipPath id="corg"><circle cx="664.9" cy="795.7" r="50.5"/></clipPath>
<path clip-path="url(#corg)" d="M610,815 C625,842 652,850 672,849 C695,848 712,835 716,822 L716,860 L610,860 Z" fill="#a5d0ec" opacity="0.6"/>
<path d="M663.9,804.0 C662.2,803.2 656.3,802.1 653.7,799.4 C651.1,796.7 649.6,793.7 648.5,787.6 C647.4,781.5 647.4,767.0 647.2,762.9 " fill="none" stroke="#e9a0a3" stroke-width="4.2" stroke-linejoin="round" stroke-linecap="round"/>
<path d="M647.2,762.9 L636.1,761.6" fill="none" stroke="#e9a0a3" stroke-width="4.2" stroke-linejoin="round" stroke-linecap="round"/>
<path d="M647.2,762.9 L652.4,755.7" fill="none" stroke="#e9a0a3" stroke-width="4.2" stroke-linejoin="round" stroke-linecap="round"/>
<path d="M626.3,785.0 C628.1,785.2 633.3,786.1 637.0,786.5 C640.7,786.9 646.6,787.4 648.5,787.6 " fill="none" stroke="#e9a0a3" stroke-width="4.2" stroke-linejoin="round" stroke-linecap="round"/>
<path d="M626.3,785.0 L625.0,772.6" fill="none" stroke="#e9a0a3" stroke-width="4.2" stroke-linejoin="round" stroke-linecap="round"/>
<path d="M626.3,785.0 L619.8,795.3" fill="none" stroke="#e9a0a3" stroke-width="4.2" stroke-linejoin="round" stroke-linecap="round"/>
<path d="M663.9,804.0 C665.3,803.3 671.2,804.9 672.4,800.0 C673.6,795.1 671.8,781.8 671.1,774.6 C670.5,767.4 668.9,759.9 668.5,757.0 " fill="none" stroke="#e9a0a3" stroke-width="4.2" stroke-linejoin="round" stroke-linecap="round"/>
<path d="M668.5,757.0 L662.6,755.0" fill="none" stroke="#e9a0a3" stroke-width="4.2" stroke-linejoin="round" stroke-linecap="round"/>
<path d="M668.5,757.0 L674.3,754.4" fill="none" stroke="#e9a0a3" stroke-width="4.2" stroke-linejoin="round" stroke-linecap="round"/>
<path d="M671.1,776.0 C672.6,774.8 677.2,771.0 680.0,769.0 C682.8,767.0 686.7,765.0 688.0,764.2 " fill="none" stroke="#e9a0a3" stroke-width="4.2" stroke-linejoin="round" stroke-linecap="round"/>
<path d="M688.0,764.2 L686.1,756.3" fill="none" stroke="#e9a0a3" stroke-width="4.2" stroke-linejoin="round" stroke-linecap="round"/>
<path d="M688.0,764.2 L696.5,766.8" fill="none" stroke="#e9a0a3" stroke-width="4.2" stroke-linejoin="round" stroke-linecap="round"/>
<path d="M663.9,804.0 C665.4,803.5 668.9,801.3 673.0,801.1 C677.1,800.9 686.1,802.7 688.7,803.0 " fill="none" stroke="#e9a0a3" stroke-width="4.2" stroke-linejoin="round" stroke-linecap="round"/>
<path d="M688.7,803.0 L700.4,792.0" fill="none" stroke="#e9a0a3" stroke-width="4.2" stroke-linejoin="round" stroke-linecap="round"/>
<path d="M700.4,792.0 L704.3,778.5" fill="none" stroke="#e9a0a3" stroke-width="4.2" stroke-linejoin="round" stroke-linecap="round"/>
<path d="M700.4,792.0 L708.2,801.1" fill="none" stroke="#e9a0a3" stroke-width="4.2" stroke-linejoin="round" stroke-linecap="round"/>
<path d="M688.7,803.0 C689.1,804.5 690.5,809.1 691.3,812.0 C692.0,814.9 692.9,819.2 693.2,820.6 " fill="none" stroke="#e9a0a3" stroke-width="4.2" stroke-linejoin="round" stroke-linecap="round"/>
<path d="M693.2,820.6 L701.7,819.3" fill="none" stroke="#e9a0a3" stroke-width="4.2" stroke-linejoin="round" stroke-linecap="round"/>
<path d="M693.2,820.6 L687.4,831.1" fill="none" stroke="#e9a0a3" stroke-width="4.2" stroke-linejoin="round" stroke-linecap="round"/>
<path d="M663.9,804.0 C661.8,805.5 653.9,810.6 651.1,812.8 C648.3,815.0 647.9,816.6 647.2,817.4 " fill="none" stroke="#e9a0a3" stroke-width="4.2" stroke-linejoin="round" stroke-linecap="round"/>
<path d="M647.2,817.4 L631.6,816.1" fill="none" stroke="#e9a0a3" stroke-width="4.2" stroke-linejoin="round" stroke-linecap="round"/>
<path d="M631.6,816.1 L624.4,808.9" fill="none" stroke="#e9a0a3" stroke-width="4.2" stroke-linejoin="round" stroke-linecap="round"/>
<path d="M631.6,816.1 L632.9,827.8" fill="none" stroke="#e9a0a3" stroke-width="4.2" stroke-linejoin="round" stroke-linecap="round"/>
<path d="M647.2,817.4 L652.4,835.0" fill="none" stroke="#e9a0a3" stroke-width="4.2" stroke-linejoin="round" stroke-linecap="round"/>
<path d="M652.4,835.0 L645.9,836.9" fill="none" stroke="#e9a0a3" stroke-width="4.2" stroke-linejoin="round" stroke-linecap="round"/>
<path d="M652.4,835.0 L661.5,838.2" fill="none" stroke="#e9a0a3" stroke-width="4.2" stroke-linejoin="round" stroke-linecap="round"/>
<ellipse cx="634.9" cy="761.5" rx="4.8" ry="3.7" transform="rotate(-173.3 634.9 761.5)" fill="#e6959a"/>
<ellipse cx="653.1" cy="754.7" rx="4.8" ry="3.7" transform="rotate(-54.2 653.1 754.7)" fill="#e6959a"/>
<ellipse cx="624.9" cy="771.4" rx="4.8" ry="3.7" transform="rotate(-96.0 624.9 771.4)" fill="#e6959a"/>
<ellipse cx="619.2" cy="796.3" rx="4.8" ry="3.7" transform="rotate(122.3 619.2 796.3)" fill="#e6959a"/>
<ellipse cx="661.5" cy="754.6" rx="4.8" ry="3.7" transform="rotate(-161.3 661.5 754.6)" fill="#e6959a"/>
<ellipse cx="675.4" cy="753.9" rx="4.8" ry="3.7" transform="rotate(-24.1 675.4 753.9)" fill="#e6959a"/>
<ellipse cx="697.6" cy="767.2" rx="4.8" ry="3.7" transform="rotate(17.0 697.6 767.2)" fill="#e6959a"/>
<ellipse cx="704.6" cy="777.3" rx="4.8" ry="3.7" transform="rotate(-73.9 704.6 777.3)" fill="#e6959a"/>
<ellipse cx="709.0" cy="802.0" rx="4.8" ry="3.7" transform="rotate(49.4 709.0 802.0)" fill="#e6959a"/>
<ellipse cx="702.9" cy="819.1" rx="4.8" ry="3.7" transform="rotate(-8.7 702.9 819.1)" fill="#e6959a"/>
<ellipse cx="686.8" cy="832.2" rx="4.8" ry="3.7" transform="rotate(118.9 686.8 832.2)" fill="#e6959a"/>
<ellipse cx="623.6" cy="808.1" rx="4.8" ry="3.7" transform="rotate(-135.0 623.6 808.1)" fill="#e6959a"/>
<ellipse cx="633.0" cy="829.0" rx="4.8" ry="3.7" transform="rotate(83.7 633.0 829.0)" fill="#e6959a"/>
<ellipse cx="644.7" cy="837.2" rx="4.8" ry="3.7" transform="rotate(163.7 644.7 837.2)" fill="#e6959a"/>
<ellipse cx="662.6" cy="838.6" rx="4.8" ry="3.7" transform="rotate(19.4 662.6 838.6)" fill="#e6959a"/>
<ellipse cx="663.9" cy="804" rx="8.5" ry="5.5" fill="#e9a0a3"/>
<path d="M660.6,807 C660.9,813.5 666.9,813.5 667.1999999999999,807 Z" fill="#e9a0a3"/>
<path d="M663.9,804.0 C662.2,803.2 656.3,802.1 653.7,799.4 C651.1,796.7 649.6,793.7 648.5,787.6 C647.4,781.5 647.4,767.0 647.2,762.9 " fill="none" stroke="#ffffff" stroke-width="2.6" stroke-linejoin="round" stroke-linecap="round"/>
<path d="M647.2,762.9 L636.1,761.6" fill="none" stroke="#ffffff" stroke-width="2.6" stroke-linejoin="round" stroke-linecap="round"/>
<path d="M647.2,762.9 L652.4,755.7" fill="none" stroke="#ffffff" stroke-width="2.6" stroke-linejoin="round" stroke-linecap="round"/>
<path d="M626.3,785.0 C628.1,785.2 633.3,786.1 637.0,786.5 C640.7,786.9 646.6,787.4 648.5,787.6 " fill="none" stroke="#ffffff" stroke-width="2.6" stroke-linejoin="round" stroke-linecap="round"/>
<path d="M626.3,785.0 L625.0,772.6" fill="none" stroke="#ffffff" stroke-width="2.6" stroke-linejoin="round" stroke-linecap="round"/>
<path d="M626.3,785.0 L619.8,795.3" fill="none" stroke="#ffffff" stroke-width="2.6" stroke-linejoin="round" stroke-linecap="round"/>
<path d="M663.9,804.0 C665.3,803.3 671.2,804.9 672.4,800.0 C673.6,795.1 671.8,781.8 671.1,774.6 C670.5,767.4 668.9,759.9 668.5,757.0 " fill="none" stroke="#ffffff" stroke-width="2.6" stroke-linejoin="round" stroke-linecap="round"/>
<path d="M668.5,757.0 L662.6,755.0" fill="none" stroke="#ffffff" stroke-width="2.6" stroke-linejoin="round" stroke-linecap="round"/>
<path d="M668.5,757.0 L674.3,754.4" fill="none" stroke="#ffffff" stroke-width="2.6" stroke-linejoin="round" stroke-linecap="round"/>
<path d="M671.1,776.0 C672.6,774.8 677.2,771.0 680.0,769.0 C682.8,767.0 686.7,765.0 688.0,764.2 " fill="none" stroke="#ffffff" stroke-width="2.6" stroke-linejoin="round" stroke-linecap="round"/>
<path d="M688.0,764.2 L686.1,756.3" fill="none" stroke="#ffffff" stroke-width="2.6" stroke-linejoin="round" stroke-linecap="round"/>
<path d="M688.0,764.2 L696.5,766.8" fill="none" stroke="#ffffff" stroke-width="2.6" stroke-linejoin="round" stroke-linecap="round"/>
<path d="M663.9,804.0 C665.4,803.5 668.9,801.3 673.0,801.1 C677.1,800.9 686.1,802.7 688.7,803.0 " fill="none" stroke="#ffffff" stroke-width="2.6" stroke-linejoin="round" stroke-linecap="round"/>
<path d="M688.7,803.0 L700.4,792.0" fill="none" stroke="#ffffff" stroke-width="2.6" stroke-linejoin="round" stroke-linecap="round"/>
<path d="M700.4,792.0 L704.3,778.5" fill="none" stroke="#ffffff" stroke-width="2.6" stroke-linejoin="round" stroke-linecap="round"/>
<path d="M700.4,792.0 L708.2,801.1" fill="none" stroke="#ffffff" stroke-width="2.6" stroke-linejoin="round" stroke-linecap="round"/>
<path d="M688.7,803.0 C689.1,804.5 690.5,809.1 691.3,812.0 C692.0,814.9 692.9,819.2 693.2,820.6 " fill="none" stroke="#ffffff" stroke-width="2.6" stroke-linejoin="round" stroke-linecap="round"/>
<path d="M693.2,820.6 L701.7,819.3" fill="none" stroke="#ffffff" stroke-width="2.6" stroke-linejoin="round" stroke-linecap="round"/>
<path d="M693.2,820.6 L687.4,831.1" fill="none" stroke="#ffffff" stroke-width="2.6" stroke-linejoin="round" stroke-linecap="round"/>
<path d="M663.9,804.0 C661.8,805.5 653.9,810.6 651.1,812.8 C648.3,815.0 647.9,816.6 647.2,817.4 " fill="none" stroke="#ffffff" stroke-width="2.6" stroke-linejoin="round" stroke-linecap="round"/>
<path d="M647.2,817.4 L631.6,816.1" fill="none" stroke="#ffffff" stroke-width="2.6" stroke-linejoin="round" stroke-linecap="round"/>
<path d="M631.6,816.1 L624.4,808.9" fill="none" stroke="#ffffff" stroke-width="2.6" stroke-linejoin="round" stroke-linecap="round"/>
<path d="M631.6,816.1 L632.9,827.8" fill="none" stroke="#ffffff" stroke-width="2.6" stroke-linejoin="round" stroke-linecap="round"/>
<path d="M647.2,817.4 L652.4,835.0" fill="none" stroke="#ffffff" stroke-width="2.6" stroke-linejoin="round" stroke-linecap="round"/>
<path d="M652.4,835.0 L645.9,836.9" fill="none" stroke="#ffffff" stroke-width="2.6" stroke-linejoin="round" stroke-linecap="round"/>
<path d="M652.4,835.0 L661.5,838.2" fill="none" stroke="#ffffff" stroke-width="2.6" stroke-linejoin="round" stroke-linecap="round"/>
<ellipse cx="663.9" cy="804" rx="7.6" ry="4.6" fill="#fff"/>
<path d="M661.4,807 C661.6999999999999,812.5 666.1,812.5 666.4,807 Z" fill="#fff"/>
<polyline points="660.2,772.0 660.7,770.8 660.7,769.8 660.0,769.1 658.8,768.6 657.5,768.1 656.8,767.4 656.8,766.4 657.3,765.1 657.8,763.9 657.8,762.9 657.1,762.2 655.9,761.7 654.6,761.2 653.9,760.5 653.9,759.5 654.4,758.3" fill="none" stroke="#df8a8f" stroke-width="0.8"/>
<circle cx="660.2" cy="772" r="1.7" fill="#b8e0f5" stroke="#df8a8f" stroke-width="0.8"/>
<polyline points="688.7,789.0 689.8,789.1 690.6,788.9 690.8,788.1 690.7,787.0 690.5,785.9 690.7,785.1 691.5,784.9 692.6,785.0 693.7,785.1 694.5,784.9 694.7,784.1 694.5,783.0 694.4,781.9 694.6,781.1 695.4,780.9 696.5,781.0" fill="none" stroke="#df8a8f" stroke-width="0.8"/>
<circle cx="688.7" cy="789" r="1.7" fill="#b8e0f5" stroke="#df8a8f" stroke-width="0.8"/>
<polyline points="638.7,800.4 637.7,800.0 637.0,800.1 636.8,800.7 636.9,801.8 637.1,802.9 636.8,803.5 636.2,803.6 635.2,803.2 634.1,802.8 633.5,802.9 633.2,803.5 633.4,804.6 633.5,805.7 633.3,806.3 632.6,806.4 631.6,806.0" fill="none" stroke="#df8a8f" stroke-width="0.8"/>
<circle cx="638.7" cy="800.4" r="1.7" fill="#b8e0f5" stroke="#df8a8f" stroke-width="0.8"/>
<polyline points="663.5,820.6 662.6,821.4 662.3,822.1 662.7,822.8 663.6,823.5 664.6,824.1 665.0,824.8 664.6,825.5 663.8,826.3 662.9,827.1 662.5,827.8 662.9,828.5 663.9,829.1 664.8,829.8 665.2,830.5 664.9,831.2 664.0,832.0" fill="none" stroke="#df8a8f" stroke-width="0.8"/>
<circle cx="663.5" cy="820.6" r="1.7" fill="#b8e0f5" stroke="#df8a8f" stroke-width="0.8"/>
<polyline points="674.3,820.0 674.5,821.2 674.9,821.9 675.8,822.0 676.9,821.6 678.1,821.2 678.9,821.3 679.4,822.1 679.5,823.2 679.7,824.4 680.2,825.2 681.0,825.3 682.2,824.9 683.3,824.5 684.2,824.6 684.6,825.3 684.8,826.5" fill="none" stroke="#df8a8f" stroke-width="0.8"/>
<circle cx="674.3" cy="820" r="1.7" fill="#b8e0f5" stroke="#df8a8f" stroke-width="0.8"/>
<circle cx="673" cy="759.6" r="1.6" fill="none" stroke="#df8a8f" stroke-width="0.8"/>
<circle cx="635.5" cy="820.6" r="1.6" fill="none" stroke="#df8a8f" stroke-width="0.8"/>
<circle cx="625" cy="793.5" r="1.6" fill="none" stroke="#df8a8f" stroke-width="0.8"/>
<path d="M634.8,770 q2,1.5 0,3 t0,3" fill="none" stroke="#df8a8f" stroke-width="0.8"/>
<path d="M693.2,775.9 q2,1.5 0,3 t0,3" fill="none" stroke="#df8a8f" stroke-width="0.8"/>
<path d="M640,828 q2,1.5 0,3 t0,3" fill="none" stroke="#df8a8f" stroke-width="0.8"/>
<path d="M697.2,808.9 q2,1.5 0,3 t0,3" fill="none" stroke="#df8a8f" stroke-width="0.8"/>
<path d="M439.4,620.3 L462.4,632.6 L462.4,659.6 L439.4,672.5 L416.9,659.6 L416.9,632.6 Z" fill="#cdd1dc" stroke="#8790a3" stroke-width="1"/>
<path d="M439.4,620.3 L462.4,632.6 L450,640 Z" fill="#c3c8d3"/>
<path d="M416.9,632.6 L428.7,640 L416.9,659.6 Z" fill="#c0c5d1"/>
<path d="M462.4,659.6 L439.4,672.5 L439.4,659 Z" fill="#bfc4d0"/>
<path d="M428.7,640 L450,640 L439.4,659 Z" fill="#e3e5eb"/>
<line x1="439.4" y1="620.3" x2="439.7" y2="602.3" stroke="#8790a3" stroke-width="1.8"/>
<line x1="428.7" y1="640" x2="402.9" y2="624.8" stroke="#8790a3" stroke-width="1.8"/>
<line x1="450" y1="640" x2="476.5" y2="624.8" stroke="#8790a3" stroke-width="1.8"/>
<line x1="416.9" y1="659.6" x2="400.6" y2="669.2" stroke="#8790a3" stroke-width="1.8"/>
<line x1="462.4" y1="659.6" x2="477" y2="666.9" stroke="#8790a3" stroke-width="1.8"/>
<line x1="439.4" y1="659" x2="439.4" y2="690.5" stroke="#8790a3" stroke-width="1.8"/>
<circle cx="439.7" cy="602.3" r="3" fill="#b0b7c5" stroke="#8790a3" stroke-width="0.8"/>
<circle cx="402.9" cy="624.8" r="3" fill="#b0b7c5" stroke="#8790a3" stroke-width="0.8"/>
<circle cx="411.3" cy="633.2" r="3" fill="#b0b7c5" stroke="#8790a3" stroke-width="0.8"/>
<circle cx="476.5" cy="624.8" r="3" fill="#b0b7c5" stroke="#8790a3" stroke-width="0.8"/>
<circle cx="467.5" cy="633.2" r="3" fill="#b0b7c5" stroke="#8790a3" stroke-width="0.8"/>
<circle cx="400.6" cy="669.2" r="3" fill="#b0b7c5" stroke="#8790a3" stroke-width="0.8"/>
<circle cx="477" cy="666.9" r="3" fill="#b0b7c5" stroke="#8790a3" stroke-width="0.8"/>
<circle cx="439.4" cy="675.9" r="3" fill="#b0b7c5" stroke="#8790a3" stroke-width="0.8"/>
<circle cx="439.4" cy="690.5" r="3" fill="#b0b7c5" stroke="#8790a3" stroke-width="0.8"/>
<polyline points="423.50,643.20 424.00,643.26 424.50,643.45 425.00,643.76 425.50,644.18 426.00,644.70 426.50,645.31 427.00,645.98 427.50,646.72 428.00,647.48 428.50,648.26 429.00,649.03 429.50,649.78 430.00,650.47 430.50,651.11 431.00,651.66 431.50,652.11 432.00,652.46 432.50,652.69 433.00,652.79 433.50,652.77 434.00,652.63 434.50,652.36 435.00,651.97 435.50,651.48 436.00,650.90 436.50,650.25 437.00,649.53 437.50,648.78 438.00,648.00 438.50,647.22 439.00,646.47 439.50,645.75 440.00,645.10 440.50,644.52 441.00,644.03 441.50,643.64 442.00,643.37 442.50,643.23 443.00,643.21 443.50,643.31 444.00,643.54 444.50,643.89 445.00,644.34 445.50,644.89 446.00,645.53 446.50,646.22 447.00,646.97 447.50,647.74 448.00,648.52 448.50,649.28 449.00,650.02 449.50,650.69 450.00,651.30 450.50,651.82 451.00,652.24 451.50,652.55 452.00,652.74 452.50,652.80 453.00,652.74" fill="none" stroke="#cc4a4a" stroke-width="1.6"/>
<polyline points="398.2,706.5 398.6,707.9 398.8,709.2 398.6,710.6 398.3,712.0 398.0,713.4 397.8,714.8 398.0,716.1 398.4,717.5" fill="none" stroke="#5f6779" stroke-width="0.75"/>
<polyline points="400.2,706.5 400.5,707.9 400.6,709.2 400.5,710.6 400.1,712.0 399.7,713.4 399.6,714.8 399.7,716.1 400.0,717.5" fill="none" stroke="#5f6779" stroke-width="0.75"/>
<polyline points="403.6,706.7 403.8,708.2 403.8,709.5 403.5,710.9 402.9,712.2 402.4,713.5 402.1,714.9 402.1,716.2 402.3,717.7" fill="none" stroke="#cc5a5a" stroke-width="0.75"/>
<polyline points="405.6,707.0 405.7,708.4 405.7,709.8 405.3,711.2 404.7,712.5 404.1,713.8 403.8,715.1 403.7,716.5 403.8,717.9" fill="none" stroke="#cc5a5a" stroke-width="0.75"/>
<polyline points="408.9,707.8 408.9,709.2 408.7,710.6 408.2,711.8 407.5,713.1 406.8,714.3 406.3,715.6 406.1,716.9 406.0,718.4" fill="none" stroke="#5f6779" stroke-width="0.75"/>
<polyline points="410.9,708.3 410.8,709.7 410.5,711.1 410.0,712.4 409.2,713.6 408.5,714.8 407.9,716.1 407.6,717.4 407.6,718.8" fill="none" stroke="#5f6779" stroke-width="0.75"/>
<polyline points="414.1,709.5 413.8,710.9 413.4,712.2 412.8,713.4 411.9,714.6 411.0,715.7 410.3,716.9 409.9,718.2 409.7,719.6" fill="none" stroke="#4f9fd6" stroke-width="0.75"/>
<polyline points="415.9,710.3 415.6,711.7 415.2,713.0 414.4,714.2 413.5,715.3 412.6,716.4 411.9,717.6 411.4,718.9 411.1,720.3" fill="none" stroke="#4f9fd6" stroke-width="0.75"/>
<polyline points="418.9,712.0 418.5,713.4 417.9,714.6 417.0,715.7 416.0,716.7 415.0,717.7 414.1,718.7 413.5,720.0 413.1,721.4" fill="none" stroke="#4f9fd6" stroke-width="0.75"/>
<polyline points="420.6,713.1 420.1,714.4 419.5,715.6 418.6,716.7 417.5,717.6 416.5,718.6 415.6,719.7 414.9,720.9 414.5,722.2" fill="none" stroke="#4f9fd6" stroke-width="0.75"/>
<polyline points="423.3,715.1 422.7,716.4 421.9,717.6 421.0,718.5 419.8,719.3 418.7,720.2 417.7,721.1 416.9,722.3 416.3,723.6" fill="none" stroke="#5f6779" stroke-width="0.75"/>
<polyline points="424.8,716.4 424.2,717.7 423.4,718.8 422.3,719.7 421.2,720.5 420.0,721.3 418.9,722.2 418.1,723.4 417.5,724.6" fill="none" stroke="#5f6779" stroke-width="0.75"/>
<polyline points="427.3,718.9 426.5,720.0 425.5,721.1 424.4,721.9 423.2,722.5 421.9,723.2 420.8,724.0 419.9,725.0 419.1,726.2" fill="none" stroke="#cc5a5a" stroke-width="0.75"/>
<polyline points="428.6,720.4 427.7,721.5 426.8,722.5 425.6,723.3 424.4,723.9 423.1,724.5 421.9,725.3 421.0,726.3 420.1,727.4" fill="none" stroke="#cc5a5a" stroke-width="0.75"/>
<polyline points="430.6,723.1 429.7,724.2 428.6,725.1 427.4,725.7 426.1,726.2 424.7,726.6 423.5,727.3 422.4,728.2 421.5,729.2" fill="none" stroke="#4f9fd6" stroke-width="0.75"/>
<polyline points="431.7,724.8 430.7,725.8 429.6,726.7 428.4,727.3 427.0,727.7 425.7,728.1 424.4,728.7 423.3,729.6 422.3,730.6" fill="none" stroke="#4f9fd6" stroke-width="0.75"/>
<polyline points="433.4,727.8 432.3,728.7 431.1,729.4 429.8,729.9 428.4,730.2 427.0,730.5 425.7,730.9 424.5,731.6 423.4,732.6" fill="none" stroke="#4f9fd6" stroke-width="0.75"/>
<polyline points="434.2,729.6 433.1,730.5 431.9,731.2 430.5,731.6 429.1,731.8 427.7,732.0 426.4,732.5 425.2,733.1 424.1,734.0" fill="none" stroke="#4f9fd6" stroke-width="0.75"/>
<polyline points="435.4,732.8 434.2,733.6 432.9,734.1 431.5,734.4 430.1,734.5 428.7,734.6 427.4,734.8 426.1,735.4 424.9,736.1" fill="none" stroke="#cc5a5a" stroke-width="0.75"/>
<polyline points="435.9,734.8 434.7,735.5 433.4,736.0 432.1,736.2 430.6,736.2 429.2,736.2 427.8,736.5 426.6,737.0 425.3,737.7" fill="none" stroke="#cc5a5a" stroke-width="0.75"/>
<polyline points="436.7,738.1 435.4,738.7 434.0,739.0 432.6,739.1 431.2,739.0 429.8,738.9 428.5,738.9 427.1,739.3 425.8,739.9" fill="none" stroke="#5f6779" stroke-width="0.75"/>
<polyline points="437.0,740.1 435.6,740.6 434.3,740.9 432.9,740.9 431.5,740.8 430.1,740.6 428.7,740.6 427.4,740.9 426.0,741.4" fill="none" stroke="#5f6779" stroke-width="0.75"/>
<polyline points="437.2,743.5 435.8,743.9 434.4,744.0 433.1,743.9 431.7,743.6 430.3,743.3 428.9,743.1 427.6,743.3 426.2,743.7" fill="none" stroke="#4f9fd6" stroke-width="0.75"/>
<polyline points="437.2,745.5 435.8,745.8 434.4,746.0 433.1,745.8 431.7,745.4 430.3,745.0 428.9,744.9 427.6,745.0 426.2,745.3" fill="none" stroke="#4f9fd6" stroke-width="0.75"/>
<polyline points="437.0,748.9 435.5,749.1 434.2,749.1 432.8,748.8 431.5,748.2 430.2,747.7 428.8,747.4 427.5,747.4 426.0,747.6" fill="none" stroke="#4f9fd6" stroke-width="0.75"/>
<polyline points="436.7,750.9 435.3,751.0 433.9,751.0 432.5,750.6 431.2,750.0 429.9,749.4 428.6,749.1 427.2,749.0 425.8,749.1" fill="none" stroke="#4f9fd6" stroke-width="0.75"/>
<polyline points="435.9,754.2 434.5,754.2 433.1,754.0 431.9,753.5 430.6,752.8 429.4,752.1 428.1,751.6 426.8,751.4 425.3,751.3" fill="none" stroke="#cc5a5a" stroke-width="0.75"/>
<polyline points="435.4,756.2 434.0,756.1 432.6,755.8 431.3,755.3 430.1,754.5 428.9,753.8 427.6,753.2 426.3,752.9 424.9,752.9" fill="none" stroke="#cc5a5a" stroke-width="0.75"/>
<polyline points="434.2,759.4 432.8,759.1 431.5,758.7 430.3,758.1 429.1,757.2 428.0,756.3 426.8,755.6 425.5,755.2 424.1,755.0" fill="none" stroke="#4f9fd6" stroke-width="0.75"/>
<polyline points="433.4,761.2 432.0,760.9 430.7,760.5 429.5,759.7 428.4,758.8 427.3,757.9 426.1,757.2 424.8,756.7 423.4,756.4" fill="none" stroke="#4f9fd6" stroke-width="0.75"/>
<polyline points="431.7,764.2 430.3,763.8 429.1,763.2 428.0,762.3 427.0,761.3 426.0,760.3 425.0,759.4 423.7,758.8 422.3,758.4" fill="none" stroke="#5f6779" stroke-width="0.75"/>
<polyline points="430.6,765.9 429.3,765.4 428.1,764.8 427.0,763.9 426.1,762.8 425.1,761.8 424.0,760.9 422.8,760.2 421.5,759.8" fill="none" stroke="#5f6779" stroke-width="0.75"/>
<polyline points="428.6,768.6 427.3,768.0 426.1,767.2 425.2,766.3 424.4,765.1 423.5,764.0 422.6,763.0 421.4,762.2 420.1,761.6" fill="none" stroke="#cc5a5a" stroke-width="0.75"/>
<polyline points="427.3,770.1 426.0,769.5 424.9,768.7 424.0,767.6 423.2,766.5 422.4,765.3 421.5,764.2 420.3,763.4 419.1,762.8" fill="none" stroke="#cc5a5a" stroke-width="0.75"/>
<polyline points="424.8,772.6 423.7,771.8 422.6,770.8 421.8,769.7 421.2,768.5 420.5,767.2 419.7,766.1 418.7,765.2 417.5,764.4" fill="none" stroke="#4f9fd6" stroke-width="0.75"/>
<polyline points="423.3,773.9 422.2,773.0 421.2,772.1 420.4,770.9 419.8,769.7 419.2,768.4 418.4,767.2 417.4,766.3 416.3,765.4" fill="none" stroke="#4f9fd6" stroke-width="0.75"/>
<polyline points="420.6,775.9 419.5,775.0 418.6,773.9 418.0,772.7 417.5,771.4 417.1,770.0 416.4,768.8 415.5,767.7 414.5,766.8" fill="none" stroke="#4f9fd6" stroke-width="0.75"/>
<polyline points="418.9,777.0 417.9,776.0 417.0,774.9 416.4,773.7 416.0,772.3 415.6,771.0 415.0,769.7 414.1,768.6 413.1,767.6" fill="none" stroke="#4f9fd6" stroke-width="0.75"/>
<polyline points="415.9,778.7 415.0,777.6 414.3,776.4 413.8,775.1 413.5,773.7 413.2,772.3 412.8,771.0 412.1,769.8 411.1,768.7" fill="none" stroke="#5f6779" stroke-width="0.75"/>
<polyline points="414.1,779.5 413.2,778.4 412.5,777.2 412.1,775.8 411.9,774.4 411.7,773.0 411.2,771.7 410.6,770.5 409.7,769.4" fill="none" stroke="#5f6779" stroke-width="0.75"/>
<polyline points="410.9,780.7 410.1,779.5 409.6,778.2 409.3,776.8 409.2,775.4 409.1,774.0 408.9,772.7 408.3,771.4 407.6,770.2" fill="none" stroke="#cc5a5a" stroke-width="0.75"/>
<polyline points="408.9,781.2 408.2,780.0 407.7,778.7 407.5,777.4 407.5,775.9 407.5,774.5 407.2,773.1 406.7,771.9 406.0,770.6" fill="none" stroke="#cc5a5a" stroke-width="0.75"/>
<polyline points="405.6,782.0 405.0,780.7 404.7,779.3 404.6,777.9 404.7,776.5 404.8,775.1 404.8,773.8 404.4,772.4 403.8,771.1" fill="none" stroke="#4f9fd6" stroke-width="0.75"/>
<polyline points="403.6,782.3 403.1,780.9 402.8,779.6 402.8,778.2 402.9,776.8 403.1,775.4 403.1,774.0 402.8,772.7 402.3,771.3" fill="none" stroke="#4f9fd6" stroke-width="0.75"/>
<polyline points="400.2,782.5 399.8,781.1 399.6,779.8 399.8,778.4 400.1,777.0 400.4,775.6 400.6,774.2 400.4,772.9 400.0,771.5" fill="none" stroke="#4f9fd6" stroke-width="0.75"/>
<polyline points="398.2,782.5 397.9,781.1 397.8,779.8 397.9,778.4 398.3,777.0 398.7,775.6 398.8,774.2 398.7,772.9 398.4,771.5" fill="none" stroke="#4f9fd6" stroke-width="0.75"/>
<polyline points="394.8,782.3 394.6,780.8 394.6,779.5 394.9,778.1 395.5,776.8 396.0,775.5 396.3,774.1 396.3,772.8 396.1,771.3" fill="none" stroke="#cc5a5a" stroke-width="0.75"/>
<polyline points="392.8,782.0 392.7,780.6 392.7,779.2 393.1,777.8 393.7,776.5 394.3,775.2 394.6,773.9 394.7,772.5 394.6,771.1" fill="none" stroke="#cc5a5a" stroke-width="0.75"/>
<polyline points="389.5,781.2 389.5,779.8 389.7,778.4 390.2,777.2 390.9,775.9 391.6,774.7 392.1,773.4 392.3,772.1 392.4,770.6" fill="none" stroke="#5f6779" stroke-width="0.75"/>
<polyline points="387.5,780.7 387.6,779.3 387.9,777.9 388.4,776.6 389.2,775.4 389.9,774.2 390.5,772.9 390.8,771.6 390.8,770.2" fill="none" stroke="#5f6779" stroke-width="0.75"/>
<polyline points="384.3,779.5 384.6,778.1 385.0,776.8 385.6,775.6 386.5,774.4 387.4,773.3 388.1,772.1 388.5,770.8 388.7,769.4" fill="none" stroke="#4f9fd6" stroke-width="0.75"/>
<polyline points="382.5,778.7 382.8,777.3 383.2,776.0 384.0,774.8 384.9,773.7 385.8,772.6 386.5,771.4 387.0,770.1 387.3,768.7" fill="none" stroke="#4f9fd6" stroke-width="0.75"/>
<polyline points="379.5,777.0 379.9,775.6 380.5,774.4 381.4,773.3 382.4,772.3 383.4,771.3 384.3,770.3 384.9,769.0 385.3,767.6" fill="none" stroke="#cc5a5a" stroke-width="0.75"/>
<polyline points="377.8,775.9 378.3,774.6 378.9,773.4 379.8,772.3 380.9,771.4 381.9,770.4 382.8,769.3 383.5,768.1 383.9,766.8" fill="none" stroke="#cc5a5a" stroke-width="0.75"/>
<polyline points="375.1,773.9 375.7,772.6 376.5,771.4 377.4,770.5 378.6,769.7 379.7,768.8 380.7,767.9 381.5,766.7 382.1,765.4" fill="none" stroke="#4f9fd6" stroke-width="0.75"/>
<polyline points="373.6,772.6 374.2,771.3 375.0,770.2 376.1,769.3 377.2,768.5 378.4,767.7 379.5,766.8 380.3,765.6 380.9,764.4" fill="none" stroke="#4f9fd6" stroke-width="0.75"/>
<polyline points="371.1,770.1 371.9,769.0 372.9,767.9 374.0,767.1 375.2,766.5 376.5,765.8 377.6,765.0 378.5,764.0 379.3,762.8" fill="none" stroke="#4f9fd6" stroke-width="0.75"/>
<polyline points="369.8,768.6 370.7,767.5 371.6,766.5 372.8,765.7 374.0,765.1 375.3,764.5 376.5,763.7 377.4,762.7 378.3,761.6" fill="none" stroke="#4f9fd6" stroke-width="0.75"/>
<polyline points="367.8,765.9 368.7,764.8 369.8,763.9 371.0,763.3 372.3,762.8 373.7,762.4 374.9,761.7 376.0,760.8 376.9,759.8" fill="none" stroke="#5f6779" stroke-width="0.75"/>
<polyline points="366.7,764.2 367.7,763.2 368.8,762.3 370.0,761.7 371.4,761.3 372.7,760.9 374.0,760.3 375.1,759.4 376.1,758.4" fill="none" stroke="#5f6779" stroke-width="0.75"/>
<polyline points="365.0,761.2 366.1,760.3 367.3,759.6 368.6,759.1 370.0,758.8 371.4,758.5 372.7,758.1 373.9,757.4 375.0,756.4" fill="none" stroke="#cc5a5a" stroke-width="0.75"/>
<polyline points="364.2,759.4 365.3,758.5 366.5,757.8 367.9,757.4 369.3,757.2 370.7,757.0 372.0,756.5 373.2,755.9 374.3,755.0" fill="none" stroke="#cc5a5a" stroke-width="0.75"/>
<polyline points="363.0,756.2 364.2,755.4 365.5,754.9 366.9,754.6 368.3,754.5 369.7,754.4 371.0,754.2 372.3,753.6 373.5,752.9" fill="none" stroke="#4f9fd6" stroke-width="0.75"/>
<polyline points="362.5,754.2 363.7,753.5 365.0,753.0 366.3,752.8 367.8,752.8 369.2,752.8 370.6,752.5 371.8,752.0 373.1,751.3" fill="none" stroke="#4f9fd6" stroke-width="0.75"/>
<polyline points="361.7,750.9 363.0,750.3 364.4,750.0 365.8,749.9 367.2,750.0 368.6,750.1 369.9,750.1 371.3,749.7 372.6,749.1" fill="none" stroke="#4f9fd6" stroke-width="0.75"/>
<polyline points="361.4,748.9 362.8,748.4 364.1,748.1 365.5,748.1 366.9,748.2 368.3,748.4 369.7,748.4 371.0,748.1 372.4,747.6" fill="none" stroke="#4f9fd6" stroke-width="0.75"/>
<polyline points="361.2,745.5 362.6,745.1 363.9,745.0 365.3,745.1 366.7,745.4 368.1,745.7 369.4,745.9 370.8,745.7 372.2,745.3" fill="none" stroke="#cc5a5a" stroke-width="0.75"/>
<polyline points="361.2,743.5 362.6,743.2 363.9,743.0 365.3,743.2 366.7,743.6 368.1,744.0 369.4,744.1 370.8,744.0 372.2,743.7" fill="none" stroke="#cc5a5a" stroke-width="0.75"/>
<polyline points="361.4,740.1 362.9,739.9 364.2,739.9 365.6,740.2 366.9,740.8 368.2,741.3 369.6,741.6 370.9,741.6 372.4,741.4" fill="none" stroke="#5f6779" stroke-width="0.75"/>
<polyline points="361.7,738.1 363.1,738.0 364.5,738.0 365.9,738.4 367.2,739.0 368.5,739.6 369.8,739.9 371.2,740.0 372.6,739.9" fill="none" stroke="#5f6779" stroke-width="0.75"/>
<polyline points="362.5,734.8 363.9,734.8 365.3,735.0 366.5,735.5 367.8,736.2 369.0,736.9 370.3,737.4 371.6,737.6 373.1,737.7" fill="none" stroke="#4f9fd6" stroke-width="0.75"/>
<polyline points="363.0,732.8 364.4,732.9 365.8,733.2 367.1,733.7 368.3,734.5 369.5,735.2 370.8,735.8 372.1,736.1 373.5,736.1" fill="none" stroke="#4f9fd6" stroke-width="0.75"/>
<polyline points="364.2,729.6 365.6,729.9 366.9,730.3 368.1,730.9 369.3,731.8 370.4,732.7 371.6,733.4 372.9,733.8 374.3,734.0" fill="none" stroke="#4f9fd6" stroke-width="0.75"/>
<polyline points="365.0,727.8 366.4,728.1 367.7,728.5 368.9,729.3 370.0,730.2 371.1,731.1 372.3,731.8 373.6,732.3 375.0,732.6" fill="none" stroke="#4f9fd6" stroke-width="0.75"/>
<polyline points="366.7,724.8 368.1,725.2 369.3,725.8 370.4,726.7 371.4,727.7 372.4,728.7 373.4,729.6 374.7,730.2 376.1,730.6" fill="none" stroke="#cc5a5a" stroke-width="0.75"/>
<polyline points="367.8,723.1 369.1,723.6 370.3,724.2 371.4,725.1 372.3,726.2 373.3,727.2 374.4,728.1 375.6,728.8 376.9,729.2" fill="none" stroke="#cc5a5a" stroke-width="0.75"/>
<polyline points="369.8,720.4 371.1,721.0 372.3,721.8 373.2,722.7 374.0,723.9 374.9,725.0 375.8,726.0 377.0,726.8 378.3,727.4" fill="none" stroke="#4f9fd6" stroke-width="0.75"/>
<polyline points="371.1,718.9 372.4,719.5 373.5,720.3 374.4,721.4 375.2,722.5 376.0,723.7 376.9,724.8 378.1,725.6 379.3,726.2" fill="none" stroke="#4f9fd6" stroke-width="0.75"/>
<polyline points="373.6,716.4 374.7,717.2 375.8,718.2 376.6,719.3 377.2,720.5 377.9,721.8 378.7,722.9 379.7,723.8 380.9,724.6" fill="none" stroke="#5f6779" stroke-width="0.75"/>
<polyline points="375.1,715.1 376.2,716.0 377.2,716.9 378.0,718.1 378.6,719.3 379.2,720.6 380.0,721.8 381.0,722.7 382.1,723.6" fill="none" stroke="#5f6779" stroke-width="0.75"/>
<polyline points="377.8,713.1 378.9,714.0 379.8,715.1 380.4,716.3 380.9,717.6 381.3,719.0 382.0,720.2 382.9,721.3 383.9,722.2" fill="none" stroke="#cc5a5a" stroke-width="0.75"/>
<polyline points="379.5,712.0 380.5,713.0 381.4,714.1 382.0,715.3 382.4,716.7 382.8,718.0 383.4,719.3 384.3,720.4 385.3,721.4" fill="none" stroke="#cc5a5a" stroke-width="0.75"/>
<polyline points="382.5,710.3 383.4,711.4 384.1,712.6 384.6,713.9 384.9,715.3 385.2,716.7 385.6,718.0 386.3,719.2 387.3,720.3" fill="none" stroke="#4f9fd6" stroke-width="0.75"/>
<polyline points="384.3,709.5 385.2,710.6 385.9,711.8 386.3,713.2 386.5,714.6 386.7,716.0 387.2,717.3 387.8,718.5 388.7,719.6" fill="none" stroke="#4f9fd6" stroke-width="0.75"/>
<polyline points="387.5,708.3 388.3,709.5 388.8,710.8 389.1,712.2 389.2,713.6 389.3,715.0 389.5,716.3 390.1,717.6 390.8,718.8" fill="none" stroke="#4f9fd6" stroke-width="0.75"/>
<polyline points="389.5,707.8 390.2,709.0 390.7,710.3 390.9,711.6 390.9,713.1 390.9,714.5 391.2,715.9 391.7,717.1 392.4,718.4" fill="none" stroke="#4f9fd6" stroke-width="0.75"/>
<polyline points="392.8,707.0 393.4,708.3 393.7,709.7 393.8,711.1 393.7,712.5 393.6,713.9 393.6,715.2 394.0,716.6 394.6,717.9" fill="none" stroke="#cc5a5a" stroke-width="0.75"/>
<polyline points="394.8,706.7 395.3,708.1 395.6,709.4 395.6,710.8 395.5,712.2 395.3,713.6 395.3,715.0 395.6,716.3 396.1,717.7" fill="none" stroke="#cc5a5a" stroke-width="0.75"/>
<polyline points="399.2,704.0 400.1,703.4 400.8,702.8 401.2,702.1 401.1,701.5 400.7,700.9 400.0,700.2 399.1,699.6 398.2,699.0 397.5,698.4 397.2,697.8 397.3,697.1 397.8,696.5 398.6,695.9 399.5,695.2 400.3,694.6 400.9,694.0 401.2,693.4 401.0,692.8 400.5,692.1 399.7,691.5 398.8,690.9 398.0,690.2 397.4,689.6 397.2,689.0" fill="none" stroke="#4a5161" stroke-width="0.9"/>
<ellipse cx="399.2" cy="704.0" rx="2.9" ry="2.9" fill="#bcc1cc" stroke="#6f7789" stroke-width="0.6"/>
<ellipse cx="405.0" cy="704.4" rx="2.9" ry="2.9" fill="#d65a5a" stroke="#a23a3a" stroke-width="0.6"/>
<polyline points="410.8,705.6 411.8,705.3 412.6,704.9 413.2,704.4 413.3,703.8 413.1,703.1 412.5,702.3 411.9,701.4 411.2,700.6 410.7,699.8 410.6,699.1 410.9,698.5 411.5,698.0 412.4,697.7 413.5,697.3 414.5,697.0 415.2,696.5 415.7,696.0 415.7,695.4 415.4,694.6 414.8,693.8 414.1,692.9 413.5,692.1 413.1,691.3 413.1,690.7" fill="none" stroke="#4a5161" stroke-width="0.9"/>
<ellipse cx="410.8" cy="705.6" rx="2.9" ry="2.9" fill="#bcc1cc" stroke="#6f7789" stroke-width="0.6"/>
<ellipse cx="416.2" cy="707.7" rx="2.9" ry="2.9" fill="#7cc2ea" stroke="#3f8cc6" stroke-width="0.6"/>
<ellipse cx="421.4" cy="710.4" rx="2.9" ry="2.9" fill="#7cc2ea" stroke="#3f8cc6" stroke-width="0.6"/>
<polyline points="426.0,713.9 427.1,714.0 428.1,714.0 428.8,713.8 429.1,713.3 429.2,712.5 429.1,711.6 428.8,710.5 428.6,709.5 428.5,708.6 428.6,707.9 429.1,707.5 429.9,707.3 430.9,707.3 432.0,707.5 433.0,707.5 433.9,707.5 434.5,707.2 434.8,706.6 434.8,705.8 434.6,704.8 434.3,703.7 434.1,702.7 434.1,701.9 434.4,701.2" fill="none" stroke="#4a5161" stroke-width="0.9"/>
<ellipse cx="426.0" cy="713.9" rx="2.9" ry="2.9" fill="#bcc1cc" stroke="#6f7789" stroke-width="0.6"/>
<ellipse cx="430.2" cy="718.0" rx="2.9" ry="2.9" fill="#d65a5a" stroke="#a23a3a" stroke-width="0.6"/>
<ellipse cx="433.7" cy="722.6" rx="2.9" ry="2.9" fill="#7cc2ea" stroke="#3f8cc6" stroke-width="0.6"/>
<ellipse cx="436.5" cy="727.7" rx="2.9" ry="2.9" fill="#7cc2ea" stroke="#3f8cc6" stroke-width="0.6"/>
<ellipse cx="438.5" cy="733.1" rx="2.9" ry="2.9" fill="#d65a5a" stroke="#a23a3a" stroke-width="0.6"/>
<polyline points="439.8,738.7 440.5,739.5 441.2,740.1 441.9,740.4 442.5,740.3 443.1,739.8 443.6,739.0 444.1,738.0 444.6,737.0 445.1,736.3 445.7,735.9 446.3,735.9 447.0,736.3 447.7,736.9 448.5,737.7 449.2,738.5 449.9,739.0 450.6,739.2 451.2,739.0 451.7,738.4 452.2,737.5 452.7,736.5 453.2,735.6 453.8,734.9 454.3,734.6" fill="none" stroke="#4a5161" stroke-width="0.9"/>
<ellipse cx="439.8" cy="738.7" rx="2.9" ry="2.9" fill="#bcc1cc" stroke="#6f7789" stroke-width="0.6"/>
<ellipse cx="440.2" cy="744.5" rx="2.9" ry="2.9" fill="#7cc2ea" stroke="#3f8cc6" stroke-width="0.6"/>
<ellipse cx="439.8" cy="750.3" rx="2.9" ry="2.9" fill="#7cc2ea" stroke="#3f8cc6" stroke-width="0.6"/>
<ellipse cx="438.5" cy="755.9" rx="2.9" ry="2.9" fill="#d65a5a" stroke="#a23a3a" stroke-width="0.6"/>
<ellipse cx="436.5" cy="761.3" rx="2.9" ry="2.9" fill="#7cc2ea" stroke="#3f8cc6" stroke-width="0.6"/>
<polyline points="433.7,766.4 433.7,767.5 433.9,768.4 434.2,769.1 434.8,769.4 435.5,769.4 436.4,769.1 437.4,768.7 438.4,768.3 439.3,768.0 440.0,768.1 440.5,768.5 440.8,769.3 440.9,770.2 440.9,771.3 441.0,772.4 441.2,773.3 441.6,773.8 442.2,774.0 443.0,773.9 443.9,773.6 444.9,773.2 445.9,772.8 446.8,772.7 447.4,772.8" fill="none" stroke="#4a5161" stroke-width="0.9"/>
<ellipse cx="433.7" cy="766.4" rx="2.9" ry="2.9" fill="#bcc1cc" stroke="#6f7789" stroke-width="0.6"/>
<ellipse cx="430.2" cy="771.0" rx="2.9" ry="2.9" fill="#d65a5a" stroke="#a23a3a" stroke-width="0.6"/>
<ellipse cx="426.0" cy="775.1" rx="2.9" ry="2.9" fill="#7cc2ea" stroke="#3f8cc6" stroke-width="0.6"/>
<ellipse cx="421.4" cy="778.6" rx="2.9" ry="2.9" fill="#7cc2ea" stroke="#3f8cc6" stroke-width="0.6"/>
<polyline points="416.2,781.3 415.7,782.3 415.3,783.1 415.2,783.9 415.5,784.4 416.2,784.8 417.1,785.1 418.2,785.3 419.2,785.5 420.1,785.8 420.6,786.2 420.8,786.8 420.6,787.6 420.2,788.5 419.6,789.4 419.1,790.3 418.8,791.2 418.8,791.8 419.2,792.3 420.0,792.7 421.0,792.9 422.0,793.1 423.1,793.3 423.8,793.7 424.3,794.2" fill="none" stroke="#4a5161" stroke-width="0.9"/>
<ellipse cx="416.2" cy="781.3" rx="2.9" ry="2.9" fill="#bcc1cc" stroke="#6f7789" stroke-width="0.6"/>
<ellipse cx="410.8" cy="783.4" rx="2.9" ry="2.9" fill="#d65a5a" stroke="#a23a3a" stroke-width="0.6"/>
<ellipse cx="405.0" cy="784.6" rx="2.9" ry="2.9" fill="#7cc2ea" stroke="#3f8cc6" stroke-width="0.6"/>
<ellipse cx="399.2" cy="785.0" rx="2.9" ry="2.9" fill="#7cc2ea" stroke="#3f8cc6" stroke-width="0.6"/>
<ellipse cx="393.4" cy="784.6" rx="2.9" ry="2.9" fill="#d65a5a" stroke="#a23a3a" stroke-width="0.6"/>
<polyline points="387.6,783.4 386.6,783.7 385.8,784.1 385.2,784.6 385.1,785.2 385.3,785.9 385.9,786.7 386.5,787.6 387.2,788.4 387.7,789.2 387.8,789.9 387.5,790.5 386.9,791.0 386.0,791.3 384.9,791.7 383.9,792.0 383.2,792.5 382.7,793.0 382.7,793.6 383.0,794.4 383.6,795.2 384.3,796.1 384.9,796.9 385.3,797.7 385.3,798.3" fill="none" stroke="#4a5161" stroke-width="0.9"/>
<ellipse cx="387.6" cy="783.4" rx="2.9" ry="2.9" fill="#bcc1cc" stroke="#6f7789" stroke-width="0.6"/>
<ellipse cx="382.2" cy="781.3" rx="2.9" ry="2.9" fill="#7cc2ea" stroke="#3f8cc6" stroke-width="0.6"/>
<ellipse cx="377.0" cy="778.6" rx="2.9" ry="2.9" fill="#d65a5a" stroke="#a23a3a" stroke-width="0.6"/>
<ellipse cx="372.4" cy="775.1" rx="2.9" ry="2.9" fill="#7cc2ea" stroke="#3f8cc6" stroke-width="0.6"/>
<ellipse cx="368.2" cy="771.0" rx="2.9" ry="2.9" fill="#7cc2ea" stroke="#3f8cc6" stroke-width="0.6"/>
<polyline points="364.7,766.4 363.7,766.0 362.8,765.7 362.1,765.8 361.6,766.1 361.3,766.8 361.1,767.8 361.1,768.9 361.0,769.9 360.9,770.8 360.5,771.4 359.9,771.7 359.2,771.6 358.2,771.3 357.2,770.9 356.2,770.5 355.4,770.3 354.7,770.5 354.2,770.9 354.0,771.7 353.9,772.7 353.9,773.8 353.8,774.9 353.6,775.7 353.2,776.2" fill="none" stroke="#4a5161" stroke-width="0.9"/>
<ellipse cx="364.7" cy="766.4" rx="2.9" ry="2.9" fill="#bcc1cc" stroke="#6f7789" stroke-width="0.6"/>
<ellipse cx="361.9" cy="761.3" rx="2.9" ry="2.9" fill="#d65a5a" stroke="#a23a3a" stroke-width="0.6"/>
<ellipse cx="359.9" cy="755.9" rx="2.9" ry="2.9" fill="#7cc2ea" stroke="#3f8cc6" stroke-width="0.6"/>
<ellipse cx="358.6" cy="750.3" rx="2.9" ry="2.9" fill="#7cc2ea" stroke="#3f8cc6" stroke-width="0.6"/>
<ellipse cx="358.2" cy="744.5" rx="2.9" ry="2.9" fill="#d65a5a" stroke="#a23a3a" stroke-width="0.6"/>
<polyline points="358.6,738.7 358.1,737.8 357.6,737.0 357.0,736.5 356.4,736.5 355.7,736.8 355.0,737.4 354.3,738.2 353.5,739.0 352.8,739.6 352.1,739.8 351.5,739.6 351.0,739.1 350.5,738.2 350.0,737.2 349.5,736.3 349.0,735.6 348.4,735.2 347.7,735.3 347.1,735.7 346.3,736.4 345.6,737.3 344.8,738.0 344.1,738.5 343.5,738.6" fill="none" stroke="#4a5161" stroke-width="0.9"/>
<ellipse cx="358.6" cy="738.7" rx="2.9" ry="2.9" fill="#bcc1cc" stroke="#6f7789" stroke-width="0.6"/>
<ellipse cx="359.9" cy="733.1" rx="2.9" ry="2.9" fill="#7cc2ea" stroke="#3f8cc6" stroke-width="0.6"/>
<ellipse cx="361.9" cy="727.7" rx="2.9" ry="2.9" fill="#7cc2ea" stroke="#3f8cc6" stroke-width="0.6"/>
<ellipse cx="364.7" cy="722.6" rx="2.9" ry="2.9" fill="#d65a5a" stroke="#a23a3a" stroke-width="0.6"/>
<ellipse cx="368.2" cy="718.0" rx="2.9" ry="2.9" fill="#7cc2ea" stroke="#3f8cc6" stroke-width="0.6"/>
<polyline points="372.4,713.9 372.6,712.8 372.7,711.9 372.6,711.2 372.2,710.7 371.4,710.5 370.5,710.6 369.4,710.7 368.3,710.8 367.4,710.7 366.8,710.5 366.4,709.9 366.4,709.2 366.5,708.2 366.8,707.1 367.1,706.1 367.1,705.2 366.9,704.6 366.4,704.2 365.6,704.1 364.6,704.1 363.5,704.2 362.4,704.3 361.6,704.2 361.0,703.9" fill="none" stroke="#4a5161" stroke-width="0.9"/>
<ellipse cx="372.4" cy="713.9" rx="2.9" ry="2.9" fill="#bcc1cc" stroke="#6f7789" stroke-width="0.6"/>
<ellipse cx="377.0" cy="710.4" rx="2.9" ry="2.9" fill="#d65a5a" stroke="#a23a3a" stroke-width="0.6"/>
<ellipse cx="382.2" cy="707.7" rx="2.9" ry="2.9" fill="#7cc2ea" stroke="#3f8cc6" stroke-width="0.6"/>
<ellipse cx="387.6" cy="705.6" rx="2.9" ry="2.9" fill="#7cc2ea" stroke="#3f8cc6" stroke-width="0.6"/>
<ellipse cx="393.4" cy="704.4" rx="2.9" ry="2.9" fill="#d65a5a" stroke="#a23a3a" stroke-width="0.6"/>
<path d="M338.5,822 A14.3,14.3 0 0 1 345,806.5 A14.8,14.8 0 0 1 362,802.8 A16.3,16.3 0 0 1 380,809.5 A17.5,17.5 0 0 1 389,828 A12.6,12.6 0 0 1 381.5,840.8 A18.3,18.3 0 0 1 377.5,862 A15.9,15.9 0 0 1 360,868.5 A17.2,17.2 0 0 1 340,871.5 A18.7,18.7 0 0 1 318,871.5 A18.5,18.5 0 0 1 301,858 A17.9,17.9 0 0 1 301.5,837 A19.9,19.9 0 0 1 324,830.5 A14.3,14.3 0 0 1 338.5,822 Z" fill="#d3d7e0" stroke="#a3aab8" stroke-width="0.9"/>
<path d="M338.5,824 C344,832 352,835 360,836" fill="none" stroke="#bcc1cc" stroke-width="0.8"/>
<path d="M325,850 C330,846 337,846 341,851" fill="none" stroke="#f1f2f6" stroke-width="1.1"/>
<path d="M379,814 C384,819 386,826 385,833" fill="none" stroke="#eef0f4" stroke-width="1.1"/>
<path d="M359.7,843 L359.7,809 C359.7,805.5 365.2,805.5 365.2,809 L365.2,838 L384.8,838" fill="none" stroke="#7d8597" stroke-width="0.9"/>
<line x1="359.7" y1="810" x2="365.2" y2="810" stroke="#8f97a7" stroke-width="0.5"/>
<line x1="359.7" y1="812" x2="365.2" y2="812" stroke="#8f97a7" stroke-width="0.5"/>
<line x1="359.7" y1="814" x2="365.2" y2="814" stroke="#8f97a7" stroke-width="0.5"/>
<line x1="359.7" y1="816" x2="365.2" y2="816" stroke="#8f97a7" stroke-width="0.5"/>
<line x1="359.7" y1="818" x2="365.2" y2="818" stroke="#8f97a7" stroke-width="0.5"/>
<line x1="359.7" y1="820" x2="365.2" y2="820" stroke="#8f97a7" stroke-width="0.5"/>
<line x1="359.7" y1="822" x2="365.2" y2="822" stroke="#8f97a7" stroke-width="0.5"/>
<line x1="359.7" y1="824" x2="365.2" y2="824" stroke="#8f97a7" stroke-width="0.5"/>
<line x1="359.7" y1="826" x2="365.2" y2="826" stroke="#8f97a7" stroke-width="0.5"/>
<line x1="359.7" y1="828" x2="365.2" y2="828" stroke="#8f97a7" stroke-width="0.5"/>
<line x1="359.7" y1="830" x2="365.2" y2="830" stroke="#8f97a7" stroke-width="0.5"/>
<line x1="359.7" y1="832" x2="365.2" y2="832" stroke="#8f97a7" stroke-width="0.5"/>
<line x1="359.7" y1="834" x2="365.2" y2="834" stroke="#8f97a7" stroke-width="0.5"/>
<line x1="359.7" y1="836" x2="365.2" y2="836" stroke="#8f97a7" stroke-width="0.5"/>
<line x1="284.50" y1="847" x2="284.50" y2="850.2" stroke="#e49494" stroke-width="0.6"/>
<line x1="284.50" y1="850.2" x2="284.50" y2="853.5" stroke="#86b2da" stroke-width="0.6"/>
<line x1="286.35" y1="847" x2="286.35" y2="850.2" stroke="#e49494" stroke-width="0.6"/>
<line x1="286.35" y1="850.2" x2="286.35" y2="853.5" stroke="#86b2da" stroke-width="0.6"/>
<line x1="288.20" y1="847" x2="288.20" y2="850.2" stroke="#e49494" stroke-width="0.6"/>
<line x1="288.20" y1="850.2" x2="288.20" y2="853.5" stroke="#86b2da" stroke-width="0.6"/>
<line x1="290.05" y1="847" x2="290.05" y2="850.2" stroke="#e49494" stroke-width="0.6"/>
<line x1="290.05" y1="850.2" x2="290.05" y2="853.5" stroke="#86b2da" stroke-width="0.6"/>
<line x1="291.90" y1="847" x2="291.90" y2="850.2" stroke="#e49494" stroke-width="0.6"/>
<line x1="291.90" y1="850.2" x2="291.90" y2="853.5" stroke="#86b2da" stroke-width="0.6"/>
<line x1="293.75" y1="847" x2="293.75" y2="850.2" stroke="#e49494" stroke-width="0.6"/>
<line x1="293.75" y1="850.2" x2="293.75" y2="853.5" stroke="#86b2da" stroke-width="0.6"/>
<line x1="295.60" y1="847" x2="295.60" y2="850.2" stroke="#e49494" stroke-width="0.6"/>
<line x1="295.60" y1="850.2" x2="295.60" y2="853.5" stroke="#86b2da" stroke-width="0.6"/>
<line x1="297.45" y1="847" x2="297.45" y2="850.2" stroke="#e49494" stroke-width="0.6"/>
<line x1="297.45" y1="850.2" x2="297.45" y2="853.5" stroke="#86b2da" stroke-width="0.6"/>
<line x1="299.30" y1="847" x2="299.30" y2="850.2" stroke="#e49494" stroke-width="0.6"/>
<line x1="299.30" y1="850.2" x2="299.30" y2="853.5" stroke="#86b2da" stroke-width="0.6"/>
<line x1="301.15" y1="847" x2="301.15" y2="850.2" stroke="#e49494" stroke-width="0.6"/>
<line x1="301.15" y1="850.2" x2="301.15" y2="853.5" stroke="#86b2da" stroke-width="0.6"/>
<line x1="303.00" y1="847" x2="303.00" y2="850.2" stroke="#e49494" stroke-width="0.6"/>
<line x1="303.00" y1="850.2" x2="303.00" y2="853.5" stroke="#86b2da" stroke-width="0.6"/>
<line x1="304.85" y1="847" x2="304.85" y2="850.2" stroke="#e49494" stroke-width="0.6"/>
<line x1="304.85" y1="850.2" x2="304.85" y2="853.5" stroke="#86b2da" stroke-width="0.6"/>
<line x1="306.70" y1="847" x2="306.70" y2="850.2" stroke="#e49494" stroke-width="0.6"/>
<line x1="306.70" y1="850.2" x2="306.70" y2="853.5" stroke="#86b2da" stroke-width="0.6"/>
<line x1="308.55" y1="847" x2="308.55" y2="850.2" stroke="#e49494" stroke-width="0.6"/>
<line x1="308.55" y1="850.2" x2="308.55" y2="853.5" stroke="#86b2da" stroke-width="0.6"/>
<line x1="367.75" y1="847" x2="367.75" y2="850.2" stroke="#e49494" stroke-width="0.6"/>
<line x1="367.75" y1="850.2" x2="367.75" y2="853.5" stroke="#86b2da" stroke-width="0.6"/>
<line x1="369.60" y1="847" x2="369.60" y2="850.2" stroke="#e49494" stroke-width="0.6"/>
<line x1="369.60" y1="850.2" x2="369.60" y2="853.5" stroke="#86b2da" stroke-width="0.6"/>
<line x1="371.45" y1="847" x2="371.45" y2="850.2" stroke="#e49494" stroke-width="0.6"/>
<line x1="371.45" y1="850.2" x2="371.45" y2="853.5" stroke="#86b2da" stroke-width="0.6"/>
<line x1="373.30" y1="847" x2="373.30" y2="850.2" stroke="#e49494" stroke-width="0.6"/>
<line x1="373.30" y1="850.2" x2="373.30" y2="853.5" stroke="#86b2da" stroke-width="0.6"/>
<line x1="375.15" y1="847" x2="375.15" y2="850.2" stroke="#e49494" stroke-width="0.6"/>
<line x1="375.15" y1="850.2" x2="375.15" y2="853.5" stroke="#86b2da" stroke-width="0.6"/>
<line x1="377.00" y1="847" x2="377.00" y2="850.2" stroke="#e49494" stroke-width="0.6"/>
<line x1="377.00" y1="850.2" x2="377.00" y2="853.5" stroke="#86b2da" stroke-width="0.6"/>
<line x1="378.85" y1="847" x2="378.85" y2="850.2" stroke="#e49494" stroke-width="0.6"/>
<line x1="378.85" y1="850.2" x2="378.85" y2="853.5" stroke="#86b2da" stroke-width="0.6"/>
<line x1="380.70" y1="847" x2="380.70" y2="850.2" stroke="#e49494" stroke-width="0.6"/>
<line x1="380.70" y1="850.2" x2="380.70" y2="853.5" stroke="#86b2da" stroke-width="0.6"/>
<line x1="382.55" y1="847" x2="382.55" y2="850.2" stroke="#e49494" stroke-width="0.6"/>
<line x1="382.55" y1="850.2" x2="382.55" y2="853.5" stroke="#86b2da" stroke-width="0.6"/>
<line x1="384.40" y1="847" x2="384.40" y2="850.2" stroke="#e49494" stroke-width="0.6"/>
<line x1="384.40" y1="850.2" x2="384.40" y2="853.5" stroke="#86b2da" stroke-width="0.6"/>
<line x1="386.25" y1="847" x2="386.25" y2="850.2" stroke="#e49494" stroke-width="0.6"/>
<line x1="386.25" y1="850.2" x2="386.25" y2="853.5" stroke="#86b2da" stroke-width="0.6"/>
<line x1="388.10" y1="847" x2="388.10" y2="850.2" stroke="#e49494" stroke-width="0.6"/>
<line x1="388.10" y1="850.2" x2="388.10" y2="853.5" stroke="#86b2da" stroke-width="0.6"/>
<line x1="389.95" y1="847" x2="389.95" y2="850.2" stroke="#e49494" stroke-width="0.6"/>
<line x1="389.95" y1="850.2" x2="389.95" y2="853.5" stroke="#86b2da" stroke-width="0.6"/>
<line x1="391.80" y1="847" x2="391.80" y2="850.2" stroke="#e49494" stroke-width="0.6"/>
<line x1="391.80" y1="850.2" x2="391.80" y2="853.5" stroke="#86b2da" stroke-width="0.6"/>
<line x1="393.65" y1="847" x2="393.65" y2="850.2" stroke="#e49494" stroke-width="0.6"/>
<line x1="393.65" y1="850.2" x2="393.65" y2="853.5" stroke="#86b2da" stroke-width="0.6"/>
<line x1="319.00" y1="836.8" x2="319.00" y2="842.5" stroke="#9096a4" stroke-width="0.6"/>
<line x1="319.00" y1="859.5" x2="319.00" y2="863.2" stroke="#6c9fcf" stroke-width="0.6"/>
<line x1="320.85" y1="836.8" x2="320.85" y2="842.5" stroke="#9096a4" stroke-width="0.6"/>
<line x1="320.85" y1="859.5" x2="320.85" y2="863.2" stroke="#6c9fcf" stroke-width="0.6"/>
<line x1="322.70" y1="836.8" x2="322.70" y2="842.5" stroke="#9096a4" stroke-width="0.6"/>
<line x1="322.70" y1="859.5" x2="322.70" y2="863.2" stroke="#6c9fcf" stroke-width="0.6"/>
<line x1="324.55" y1="836.8" x2="324.55" y2="842.5" stroke="#9096a4" stroke-width="0.6"/>
<line x1="324.55" y1="859.5" x2="324.55" y2="863.2" stroke="#6c9fcf" stroke-width="0.6"/>
<line x1="326.40" y1="836.8" x2="326.40" y2="842.5" stroke="#9096a4" stroke-width="0.6"/>
<line x1="326.40" y1="859.5" x2="326.40" y2="863.2" stroke="#6c9fcf" stroke-width="0.6"/>
<line x1="328.25" y1="836.8" x2="328.25" y2="842.5" stroke="#9096a4" stroke-width="0.6"/>
<line x1="328.25" y1="859.5" x2="328.25" y2="863.2" stroke="#6c9fcf" stroke-width="0.6"/>
<line x1="330.10" y1="836.8" x2="330.10" y2="842.5" stroke="#9096a4" stroke-width="0.6"/>
<line x1="330.10" y1="859.5" x2="330.10" y2="863.2" stroke="#6c9fcf" stroke-width="0.6"/>
<line x1="331.95" y1="836.8" x2="331.95" y2="842.5" stroke="#9096a4" stroke-width="0.6"/>
<line x1="331.95" y1="859.5" x2="331.95" y2="863.2" stroke="#6c9fcf" stroke-width="0.6"/>
<line x1="333.80" y1="836.8" x2="333.80" y2="842.5" stroke="#9096a4" stroke-width="0.6"/>
<line x1="333.80" y1="859.5" x2="333.80" y2="863.2" stroke="#6c9fcf" stroke-width="0.6"/>
<line x1="335.65" y1="836.8" x2="335.65" y2="842.5" stroke="#9096a4" stroke-width="0.6"/>
<line x1="335.65" y1="859.5" x2="335.65" y2="863.2" stroke="#6c9fcf" stroke-width="0.6"/>
<line x1="337.50" y1="836.8" x2="337.50" y2="842.5" stroke="#9096a4" stroke-width="0.6"/>
<line x1="337.50" y1="859.5" x2="337.50" y2="863.2" stroke="#6c9fcf" stroke-width="0.6"/>
<line x1="339.35" y1="836.8" x2="339.35" y2="842.5" stroke="#9096a4" stroke-width="0.6"/>
<line x1="339.35" y1="859.5" x2="339.35" y2="863.2" stroke="#6c9fcf" stroke-width="0.6"/>
<line x1="341.20" y1="836.8" x2="341.20" y2="842.5" stroke="#9096a4" stroke-width="0.6"/>
<line x1="341.20" y1="859.5" x2="341.20" y2="863.2" stroke="#6c9fcf" stroke-width="0.6"/>
<line x1="343.05" y1="836.8" x2="343.05" y2="842.5" stroke="#9096a4" stroke-width="0.6"/>
<line x1="343.05" y1="859.5" x2="343.05" y2="863.2" stroke="#6c9fcf" stroke-width="0.6"/>
<line x1="344.90" y1="836.8" x2="344.90" y2="842.5" stroke="#9096a4" stroke-width="0.6"/>
<line x1="344.90" y1="859.5" x2="344.90" y2="863.2" stroke="#6c9fcf" stroke-width="0.6"/>
<line x1="346.75" y1="836.8" x2="346.75" y2="842.5" stroke="#9096a4" stroke-width="0.6"/>
<line x1="346.75" y1="859.5" x2="346.75" y2="863.2" stroke="#6c9fcf" stroke-width="0.6"/>
<line x1="348.60" y1="836.8" x2="348.60" y2="842.5" stroke="#9096a4" stroke-width="0.6"/>
<line x1="348.60" y1="859.5" x2="348.60" y2="863.2" stroke="#6c9fcf" stroke-width="0.6"/>
<line x1="350.45" y1="836.8" x2="350.45" y2="842.5" stroke="#9096a4" stroke-width="0.6"/>
<line x1="350.45" y1="859.5" x2="350.45" y2="863.2" stroke="#6c9fcf" stroke-width="0.6"/>
<line x1="352.30" y1="836.8" x2="352.30" y2="842.5" stroke="#9096a4" stroke-width="0.6"/>
<line x1="352.30" y1="859.5" x2="352.30" y2="863.2" stroke="#6c9fcf" stroke-width="0.6"/>
<line x1="354.15" y1="836.8" x2="354.15" y2="842.5" stroke="#9096a4" stroke-width="0.6"/>
<line x1="354.15" y1="859.5" x2="354.15" y2="863.2" stroke="#6c9fcf" stroke-width="0.6"/>
<line x1="356.00" y1="836.8" x2="356.00" y2="842.5" stroke="#9096a4" stroke-width="0.6"/>
<line x1="356.00" y1="859.5" x2="356.00" y2="863.2" stroke="#6c9fcf" stroke-width="0.6"/>
<line x1="357.85" y1="836.8" x2="357.85" y2="842.5" stroke="#9096a4" stroke-width="0.6"/>
<line x1="357.85" y1="859.5" x2="357.85" y2="863.2" stroke="#6c9fcf" stroke-width="0.6"/>
<path d="M284,846.7 L309.6,846.7 L317.2,836.4 L358.6,836.4 L367.3,846.7 L394.6,846.7" fill="none" stroke="#e07777" stroke-width="1.2"/>
<path d="M284,853.8 L309.6,853.8 L318.9,863.6 L357,863.6 L367.3,853.8 L394.6,853.8" fill="none" stroke="#5b9bd0" stroke-width="1.2"/>
<path d="M321.6,842.9 L359.7,842.9" fill="none" stroke="#8a91a0" stroke-width="1.1"/>
</svg>
</body></html>
